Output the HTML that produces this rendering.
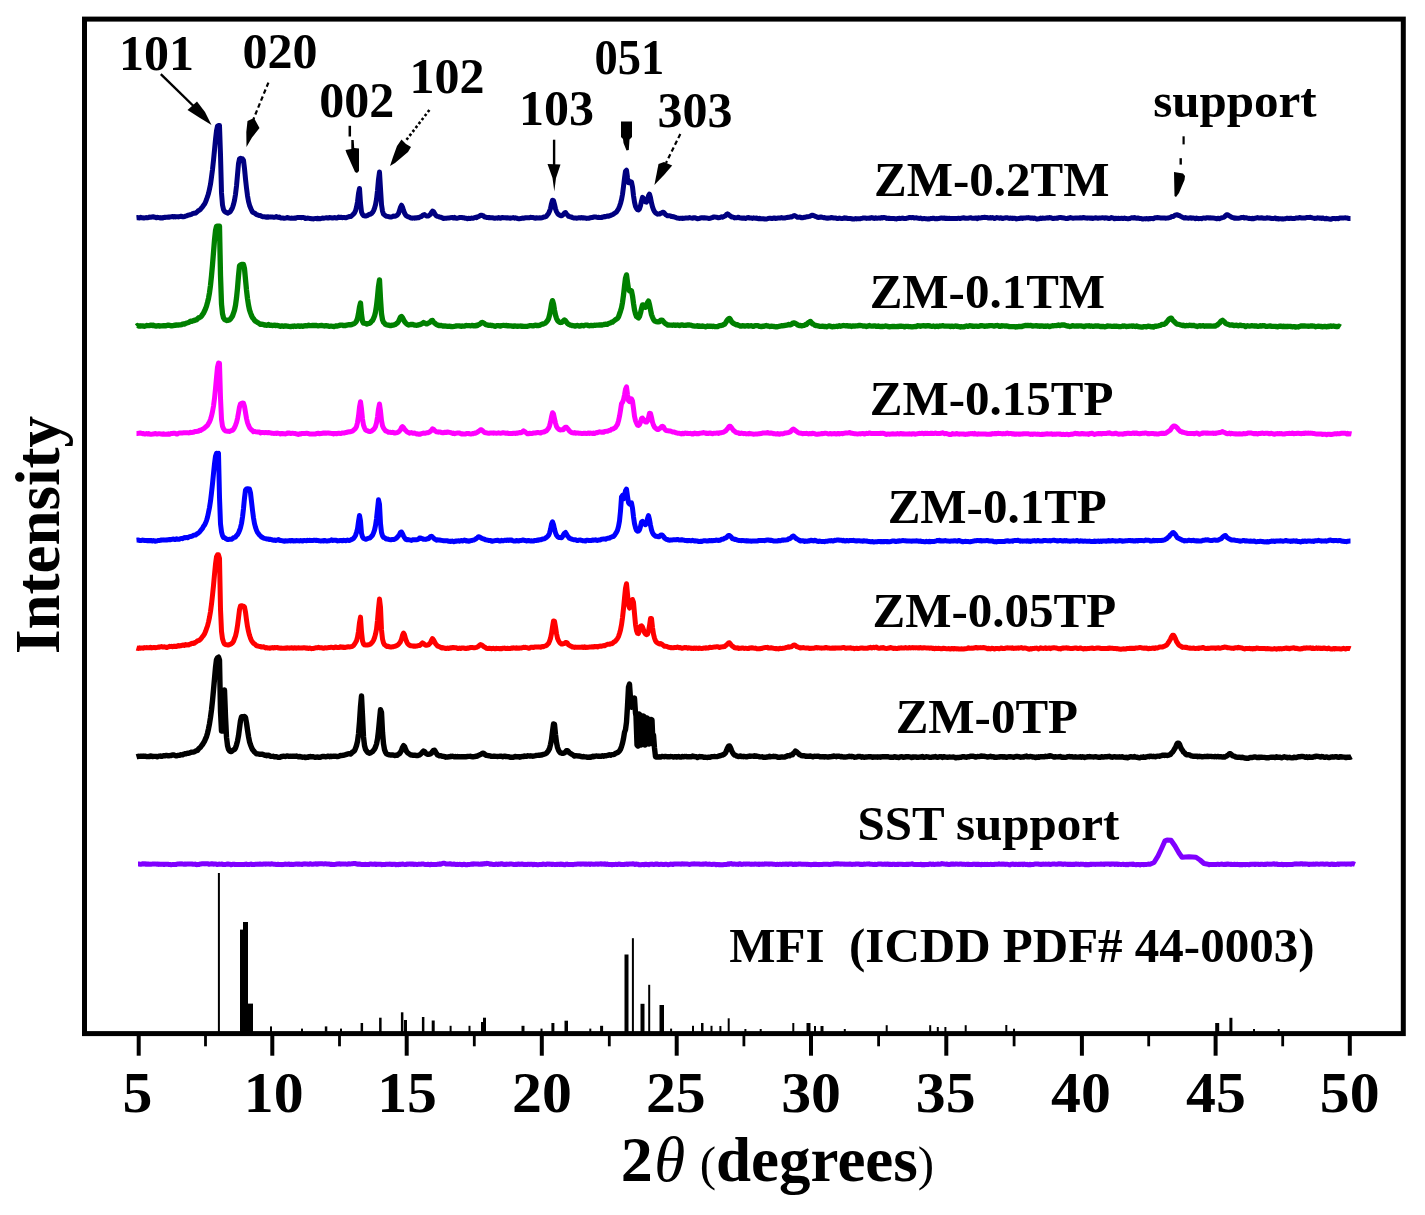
<!DOCTYPE html>
<html><head><meta charset="utf-8"><style>
html,body{margin:0;padding:0;background:#fff;}
body{width:1425px;height:1215px;overflow:hidden;position:relative;}
svg{position:absolute;left:0;top:0;filter:blur(0.35px);}
text{font-family:"Liberation Serif",serif;font-weight:bold;fill:#000;}
</style></head><body>
<svg width="1425" height="1215" viewBox="0 0 1425 1215">
<rect x="0" y="0" width="1425" height="1215" fill="#fff"/>

<path d="M136.5,217.7 137.5,217.6 138.5,217.7 139.5,218.0 140.5,217.3 141.5,217.8 142.5,217.7 143.5,218.0 144.5,217.9 145.5,217.7 146.5,217.6 147.5,217.8 148.5,217.6 149.5,217.1 150.5,217.3 151.5,217.0 152.5,217.0 153.5,216.7 154.5,217.2 155.5,217.2 156.5,217.8 157.5,217.3 158.5,217.6 159.5,217.7 160.5,218.0 161.5,217.7 162.5,218.0 163.5,217.7 164.5,217.2 165.5,217.4 166.5,217.2 167.5,217.3 168.5,217.0 169.5,217.2 170.5,216.9 171.5,216.7 172.5,216.6 173.5,216.9 174.5,216.5 175.5,216.9 176.5,216.7 177.5,216.7 178.5,216.9 179.5,216.6 180.5,216.3 181.5,216.2 182.5,216.7 183.5,216.7 184.5,216.5 185.5,216.2 186.5,215.9 187.5,215.3 188.5,215.2 189.5,214.8 190.5,214.7 191.5,214.4 192.5,213.6 193.5,213.3 194.5,213.3 195.5,213.1 196.5,212.4 197.5,211.6 198.5,210.6 199.5,210.2 200.5,209.3 201.5,208.0 202.5,206.9 203.5,205.3 204.5,204.1 205.5,202.1 206.5,199.5 207.5,196.7 208.5,193.5 209.5,189.1 210.5,184.3 211.5,177.2 212.5,169.6 213.5,160.2 214.5,149.9 215.5,139.4 216.5,130.7 217.5,126.0 218.5,125.6 219.5,125.5 220.5,154.8 221.5,192.9 222.5,205.0 223.5,209.5 224.5,211.4 225.5,212.0 226.5,212.6 227.5,213.2 228.5,212.4 229.5,212.4 230.5,211.3 231.5,209.6 232.5,207.6 233.5,204.5 234.5,200.4 235.5,194.3 236.5,186.0 237.5,174.8 238.5,163.4 239.5,158.7 240.5,158.3 241.5,158.8 242.5,158.8 243.5,160.4 244.5,168.5 245.5,179.0 246.5,188.1 247.5,195.7 248.5,201.4 249.5,205.2 250.5,207.7 251.5,210.1 252.5,212.0 253.5,212.6 254.5,213.0 255.5,213.8 256.5,214.6 257.5,214.9 258.5,215.3 259.5,215.6 260.5,215.6 261.5,216.3 262.5,216.7 263.5,216.8 264.5,216.8 265.5,217.0 266.5,217.2 267.5,216.7 268.5,217.2 269.5,216.9 270.5,217.1 271.5,217.0 272.5,217.1 273.5,217.2 274.5,217.2 275.5,217.1 276.5,216.6 277.5,217.2 278.5,217.4 279.5,217.1 280.5,217.9 281.5,217.9 282.5,217.9 283.5,218.2 284.5,218.3 285.5,218.1 286.5,217.8 287.5,217.5 288.5,218.0 289.5,218.1 290.5,218.3 291.5,218.1 292.5,218.2 293.5,218.2 294.5,218.1 295.5,218.2 296.5,217.7 297.5,217.6 298.5,217.6 299.5,217.6 300.5,217.6 301.5,217.7 302.5,217.4 303.5,217.5 304.5,217.9 305.5,218.5 306.5,218.3 307.5,218.1 308.5,218.2 309.5,218.4 310.5,218.5 311.5,218.7 312.5,218.8 313.5,218.9 314.5,218.6 315.5,218.4 316.5,218.7 317.5,218.2 318.5,218.8 319.5,218.6 320.5,218.7 321.5,218.4 322.5,218.0 323.5,218.3 324.5,218.1 325.5,217.9 326.5,217.7 327.5,218.0 328.5,218.0 329.5,217.5 330.5,217.8 331.5,217.8 332.5,218.1 333.5,217.8 334.5,217.6 335.5,217.7 336.5,218.1 337.5,217.8 338.5,217.1 339.5,217.6 340.5,217.3 341.5,217.3 342.5,217.7 343.5,217.4 344.5,217.5 345.5,217.7 346.5,217.7 347.5,217.1 348.5,216.8 349.5,216.5 350.5,216.6 351.5,215.9 352.5,215.1 353.5,214.1 354.5,212.9 355.5,210.8 356.5,207.2 357.5,201.9 358.5,193.5 359.5,188.5 360.5,203.1 361.5,212.0 362.5,214.4 363.5,215.5 364.5,215.8 365.5,216.1 366.5,215.8 367.5,215.6 368.5,214.8 369.5,214.3 370.5,214.2 371.5,213.5 372.5,212.4 373.5,210.7 374.5,208.2 375.5,204.8 376.5,199.2 377.5,190.5 378.5,179.3 379.5,172.1 380.5,188.6 381.5,204.6 382.5,211.2 383.5,214.1 384.5,215.0 385.5,215.7 386.5,216.2 387.5,216.4 388.5,216.7 389.5,216.7 390.5,217.1 391.5,217.0 392.5,216.6 393.5,216.1 394.5,216.3 395.5,216.0 396.5,215.7 397.5,214.8 398.5,213.5 399.5,210.4 400.5,207.4 401.5,205.2 402.5,207.1 403.5,210.4 404.5,213.0 405.5,214.9 406.5,215.9 407.5,216.5 408.5,216.9 409.5,217.3 410.5,217.8 411.5,218.1 412.5,218.2 413.5,217.9 414.5,218.2 415.5,217.8 416.5,218.1 417.5,217.6 418.5,217.8 419.5,217.2 420.5,216.7 421.5,216.5 422.5,215.5 423.5,214.9 424.5,214.6 425.5,215.5 426.5,215.9 427.5,215.9 428.5,215.9 429.5,215.1 430.5,214.3 431.5,212.5 432.5,211.1 433.5,211.5 434.5,213.2 435.5,214.9 436.5,216.0 437.5,216.4 438.5,216.6 439.5,217.1 440.5,217.2 441.5,217.5 442.5,218.0 443.5,218.5 444.5,218.3 445.5,218.2 446.5,218.2 447.5,218.1 448.5,217.9 449.5,217.9 450.5,217.7 451.5,217.6 452.5,217.4 453.5,218.0 454.5,217.4 455.5,218.0 456.5,218.2 457.5,218.2 458.5,217.9 459.5,217.5 460.5,217.6 461.5,217.4 462.5,217.8 463.5,217.7 464.5,218.0 465.5,218.3 466.5,218.2 467.5,218.7 468.5,218.3 469.5,218.5 470.5,218.4 471.5,218.1 472.5,218.2 473.5,218.2 474.5,217.6 475.5,217.3 476.5,217.7 477.5,216.7 478.5,216.7 479.5,216.1 480.5,215.3 481.5,215.3 482.5,215.5 483.5,215.9 484.5,216.9 485.5,217.0 486.5,217.4 487.5,217.4 488.5,217.7 489.5,217.6 490.5,217.7 491.5,217.8 492.5,217.8 493.5,218.0 494.5,218.2 495.5,218.2 496.5,217.9 497.5,218.2 498.5,217.5 499.5,218.0 500.5,218.2 501.5,217.7 502.5,217.5 503.5,217.8 504.5,217.7 505.5,217.8 506.5,218.0 507.5,217.8 508.5,218.0 509.5,218.0 510.5,218.3 511.5,217.9 512.5,217.8 513.5,217.6 514.5,218.2 515.5,217.8 516.5,218.1 517.5,218.6 518.5,218.7 519.5,218.7 520.5,218.6 521.5,218.3 522.5,218.1 523.5,218.2 524.5,218.0 525.5,217.8 526.5,217.7 527.5,217.8 528.5,217.7 529.5,217.7 530.5,217.3 531.5,217.4 532.5,217.4 533.5,217.8 534.5,218.0 535.5,218.2 536.5,217.7 537.5,217.9 538.5,217.9 539.5,217.8 540.5,218.1 541.5,217.7 542.5,217.8 543.5,217.1 544.5,217.0 545.5,216.7 546.5,216.2 547.5,214.7 548.5,213.6 549.5,211.3 550.5,208.5 551.5,203.6 552.5,200.2 553.5,200.6 554.5,204.3 555.5,208.9 556.5,211.6 557.5,213.4 558.5,214.4 559.5,215.1 560.5,215.7 561.5,215.7 562.5,215.2 563.5,214.2 564.5,213.0 565.5,212.5 566.5,213.9 567.5,214.9 568.5,216.3 569.5,216.5 570.5,216.9 571.5,217.0 572.5,217.6 573.5,217.9 574.5,218.0 575.5,217.9 576.5,218.3 577.5,218.1 578.5,217.7 579.5,217.8 580.5,218.0 581.5,217.6 582.5,218.0 583.5,217.8 584.5,218.0 585.5,218.1 586.5,218.4 587.5,218.2 588.5,218.3 589.5,218.0 590.5,217.7 591.5,217.5 592.5,217.5 593.5,217.0 594.5,217.1 595.5,216.9 596.5,217.2 597.5,217.4 598.5,217.3 599.5,217.4 600.5,217.4 601.5,217.6 602.5,216.9 603.5,217.1 604.5,216.5 605.5,216.7 606.5,216.3 607.5,216.0 608.5,216.3 609.5,215.8 610.5,215.5 611.5,215.0 612.5,214.7 613.5,214.1 614.5,213.3 615.5,212.7 616.5,212.0 617.5,210.4 618.5,208.9 619.5,206.4 620.5,203.5 621.5,199.7 622.5,194.4 623.5,186.6 624.5,178.3 625.5,171.2 626.5,170.2 627.5,177.7 628.5,182.7 629.5,182.7 630.5,181.8 631.5,182.0 632.5,186.9 633.5,195.6 634.5,202.2 635.5,206.4 636.5,208.4 637.5,209.6 638.5,210.0 639.5,208.8 640.5,205.8 641.5,201.1 642.5,197.4 643.5,198.3 644.5,200.2 645.5,201.8 646.5,202.1 647.5,199.8 648.5,195.8 649.5,194.1 650.5,197.7 651.5,202.9 652.5,206.9 653.5,209.6 654.5,211.6 655.5,212.7 656.5,213.5 657.5,214.2 658.5,213.9 659.5,214.1 660.5,213.3 661.5,213.2 662.5,212.3 663.5,212.3 664.5,213.3 665.5,214.6 666.5,215.2 667.5,215.8 668.5,215.8 669.5,215.8 670.5,215.9 671.5,216.5 672.5,216.5 673.5,216.8 674.5,217.0 675.5,217.4 676.5,217.8 677.5,218.1 678.5,218.2 679.5,218.4 680.5,218.3 681.5,218.2 682.5,218.5 683.5,218.2 684.5,218.2 685.5,218.1 686.5,218.0 687.5,218.0 688.5,217.9 689.5,217.6 690.5,217.9 691.5,218.1 692.5,218.2 693.5,217.7 694.5,217.7 695.5,218.0 696.5,218.3 697.5,218.8 698.5,218.6 699.5,218.3 700.5,218.0 701.5,217.8 702.5,217.8 703.5,218.0 704.5,217.8 705.5,218.0 706.5,217.9 707.5,218.1 708.5,218.4 709.5,218.4 710.5,218.2 711.5,217.8 712.5,217.6 713.5,217.0 714.5,216.9 715.5,217.1 716.5,217.3 717.5,217.5 718.5,217.8 719.5,217.6 720.5,217.2 721.5,216.8 722.5,217.2 723.5,216.8 724.5,216.1 725.5,215.8 726.5,214.5 727.5,213.9 728.5,214.5 729.5,215.5 730.5,216.0 731.5,217.1 732.5,217.1 733.5,217.2 734.5,217.9 735.5,217.7 736.5,217.7 737.5,217.5 738.5,217.2 739.5,217.8 740.5,218.0 741.5,218.0 742.5,218.3 743.5,218.0 744.5,218.1 745.5,218.5 746.5,218.0 747.5,217.6 748.5,217.4 749.5,218.0 750.5,218.0 751.5,218.1 752.5,218.4 753.5,217.8 754.5,218.1 755.5,218.3 756.5,218.0 757.5,218.6 758.5,218.7 759.5,218.3 760.5,218.8 761.5,218.7 762.5,218.8 763.5,218.8 764.5,219.0 765.5,219.0 766.5,218.9 767.5,218.8 768.5,218.4 769.5,218.2 770.5,218.3 771.5,218.5 772.5,218.4 773.5,218.0 774.5,218.1 775.5,218.5 776.5,218.2 777.5,218.2 778.5,217.9 779.5,218.0 780.5,218.0 781.5,217.6 782.5,218.0 783.5,218.1 784.5,218.1 785.5,217.8 786.5,217.6 787.5,217.5 788.5,217.2 789.5,217.2 790.5,216.8 791.5,216.9 792.5,216.4 793.5,215.8 794.5,215.6 795.5,216.0 796.5,216.7 797.5,217.3 798.5,217.3 799.5,217.1 800.5,217.2 801.5,217.8 802.5,217.7 803.5,217.5 804.5,217.3 805.5,217.2 806.5,216.8 807.5,216.8 808.5,216.6 809.5,216.4 810.5,215.9 811.5,215.3 812.5,215.3 813.5,215.5 814.5,215.9 815.5,216.4 816.5,216.8 817.5,217.3 818.5,217.5 819.5,217.3 820.5,217.0 821.5,217.0 822.5,217.4 823.5,217.7 824.5,217.6 825.5,218.0 826.5,218.0 827.5,218.3 828.5,218.0 829.5,218.1 830.5,217.7 831.5,217.5 832.5,217.8 833.5,218.0 834.5,217.9 835.5,218.0 836.5,218.2 837.5,218.6 838.5,218.3 839.5,218.1 840.5,218.4 841.5,218.6 842.5,218.4 843.5,218.3 844.5,217.8 845.5,218.2 846.5,218.0 847.5,218.5 848.5,218.5 849.5,218.6 850.5,218.5 851.5,218.7 852.5,219.0 853.5,219.1 854.5,219.0 855.5,218.6 856.5,218.9 857.5,218.7 858.5,218.8 859.5,218.8 860.5,218.7 861.5,218.4 862.5,218.2 863.5,217.9 864.5,218.1 865.5,218.1 866.5,218.4 867.5,218.2 868.5,218.2 869.5,218.1 870.5,218.2 871.5,217.6 872.5,217.8 873.5,218.3 874.5,218.4 875.5,217.8 876.5,218.3 877.5,218.2 878.5,218.1 879.5,218.0 880.5,218.2 881.5,217.6 882.5,217.9 883.5,217.5 884.5,217.6 885.5,217.8 886.5,218.4 887.5,218.2 888.5,218.5 889.5,218.3 890.5,218.4 891.5,218.4 892.5,218.5 893.5,218.4 894.5,218.7 895.5,218.8 896.5,218.9 897.5,218.5 898.5,218.5 899.5,218.3 900.5,218.4 901.5,218.3 902.5,218.1 903.5,218.3 904.5,218.6 905.5,218.6 906.5,218.3 907.5,218.1 908.5,217.7 909.5,217.5 910.5,217.6 911.5,217.8 912.5,217.4 913.5,217.7 914.5,218.1 915.5,217.9 916.5,217.7 917.5,218.1 918.5,218.3 919.5,218.4 920.5,218.1 921.5,218.5 922.5,218.8 923.5,218.6 924.5,218.6 925.5,218.7 926.5,218.8 927.5,218.9 928.5,218.8 929.5,218.9 930.5,218.6 931.5,218.6 932.5,218.2 933.5,218.3 934.5,218.5 935.5,218.8 936.5,218.6 937.5,218.7 938.5,218.6 939.5,218.2 940.5,218.2 941.5,217.9 942.5,218.2 943.5,218.2 944.5,217.9 945.5,218.5 946.5,218.2 947.5,218.5 948.5,218.5 949.5,218.3 950.5,218.6 951.5,218.5 952.5,218.4 953.5,218.4 954.5,218.4 955.5,218.6 956.5,218.5 957.5,218.4 958.5,218.2 959.5,218.4 960.5,218.5 961.5,218.1 962.5,217.9 963.5,217.8 964.5,218.0 965.5,218.3 966.5,218.2 967.5,218.2 968.5,218.2 969.5,217.9 970.5,217.7 971.5,218.0 972.5,218.2 973.5,218.3 974.5,218.2 975.5,218.0 976.5,217.9 977.5,218.6 978.5,217.8 979.5,217.9 980.5,217.9 981.5,217.8 982.5,217.5 983.5,217.4 984.5,217.3 985.5,217.5 986.5,217.4 987.5,217.8 988.5,218.0 989.5,217.9 990.5,217.5 991.5,218.0 992.5,217.6 993.5,217.9 994.5,218.5 995.5,218.2 996.5,217.6 997.5,217.7 998.5,217.9 999.5,218.3 1000.5,217.8 1001.5,218.0 1002.5,218.6 1003.5,218.2 1004.5,218.1 1005.5,217.7 1006.5,217.7 1007.5,217.8 1008.5,218.2 1009.5,218.4 1010.5,218.1 1011.5,218.2 1012.5,218.5 1013.5,218.2 1014.5,218.2 1015.5,218.4 1016.5,218.9 1017.5,218.7 1018.5,218.6 1019.5,218.5 1020.5,218.0 1021.5,218.0 1022.5,218.4 1023.5,218.0 1024.5,218.0 1025.5,217.9 1026.5,217.8 1027.5,217.8 1028.5,217.6 1029.5,217.9 1030.5,218.3 1031.5,218.0 1032.5,218.1 1033.5,218.5 1034.5,218.1 1035.5,218.5 1036.5,218.9 1037.5,218.9 1038.5,218.8 1039.5,218.8 1040.5,218.1 1041.5,218.5 1042.5,218.0 1043.5,218.3 1044.5,218.2 1045.5,218.2 1046.5,217.9 1047.5,217.7 1048.5,218.1 1049.5,217.6 1050.5,217.7 1051.5,218.0 1052.5,218.4 1053.5,218.5 1054.5,218.3 1055.5,218.3 1056.5,218.1 1057.5,218.2 1058.5,217.7 1059.5,217.6 1060.5,217.4 1061.5,217.8 1062.5,217.8 1063.5,218.0 1064.5,218.1 1065.5,218.4 1066.5,218.4 1067.5,218.5 1068.5,217.9 1069.5,218.1 1070.5,217.6 1071.5,217.9 1072.5,218.2 1073.5,218.2 1074.5,218.1 1075.5,217.9 1076.5,217.9 1077.5,217.9 1078.5,217.9 1079.5,218.0 1080.5,217.7 1081.5,218.1 1082.5,217.8 1083.5,217.5 1084.5,217.8 1085.5,218.0 1086.5,218.0 1087.5,218.2 1088.5,217.9 1089.5,218.0 1090.5,218.3 1091.5,218.0 1092.5,218.5 1093.5,218.2 1094.5,218.1 1095.5,217.7 1096.5,217.9 1097.5,218.3 1098.5,218.2 1099.5,217.9 1100.5,218.1 1101.5,217.9 1102.5,217.7 1103.5,217.9 1104.5,218.2 1105.5,217.8 1106.5,218.1 1107.5,218.0 1108.5,218.5 1109.5,218.5 1110.5,218.1 1111.5,217.6 1112.5,217.9 1113.5,218.2 1114.5,218.8 1115.5,218.2 1116.5,218.5 1117.5,218.5 1118.5,218.3 1119.5,218.4 1120.5,218.4 1121.5,218.2 1122.5,218.5 1123.5,218.5 1124.5,218.1 1125.5,218.5 1126.5,218.6 1127.5,218.7 1128.5,218.7 1129.5,218.6 1130.5,218.2 1131.5,217.8 1132.5,217.7 1133.5,218.1 1134.5,217.5 1135.5,218.0 1136.5,218.2 1137.5,218.1 1138.5,218.1 1139.5,218.5 1140.5,218.4 1141.5,218.7 1142.5,219.0 1143.5,218.9 1144.5,218.7 1145.5,218.9 1146.5,218.6 1147.5,218.7 1148.5,219.0 1149.5,218.6 1150.5,218.7 1151.5,218.4 1152.5,218.5 1153.5,218.7 1154.5,218.0 1155.5,217.7 1156.5,217.7 1157.5,217.5 1158.5,217.7 1159.5,217.8 1160.5,217.9 1161.5,218.0 1162.5,218.1 1163.5,218.0 1164.5,217.9 1165.5,218.3 1166.5,218.1 1167.5,217.9 1168.5,217.9 1169.5,217.6 1170.5,217.3 1171.5,216.7 1172.5,216.4 1173.5,216.4 1174.5,215.6 1175.5,215.1 1176.5,214.7 1177.5,214.7 1178.5,215.5 1179.5,215.6 1180.5,216.3 1181.5,216.7 1182.5,217.3 1183.5,217.7 1184.5,218.1 1185.5,217.6 1186.5,218.0 1187.5,218.1 1188.5,218.3 1189.5,217.9 1190.5,217.7 1191.5,218.2 1192.5,218.0 1193.5,218.1 1194.5,218.3 1195.5,218.8 1196.5,218.1 1197.5,218.4 1198.5,218.7 1199.5,218.6 1200.5,218.4 1201.5,218.7 1202.5,218.2 1203.5,218.1 1204.5,218.1 1205.5,218.3 1206.5,217.8 1207.5,217.7 1208.5,217.7 1209.5,218.1 1210.5,217.8 1211.5,218.1 1212.5,217.9 1213.5,218.1 1214.5,218.2 1215.5,218.4 1216.5,218.8 1217.5,218.5 1218.5,218.2 1219.5,218.7 1220.5,218.3 1221.5,217.9 1222.5,217.6 1223.5,217.4 1224.5,216.8 1225.5,215.7 1226.5,214.7 1227.5,214.8 1228.5,215.3 1229.5,215.9 1230.5,216.4 1231.5,217.2 1232.5,217.5 1233.5,217.7 1234.5,218.2 1235.5,218.0 1236.5,218.3 1237.5,218.3 1238.5,218.3 1239.5,218.1 1240.5,217.8 1241.5,217.5 1242.5,217.6 1243.5,217.2 1244.5,218.0 1245.5,217.8 1246.5,217.7 1247.5,218.1 1248.5,218.4 1249.5,218.3 1250.5,218.6 1251.5,218.7 1252.5,218.2 1253.5,218.7 1254.5,218.2 1255.5,218.3 1256.5,217.9 1257.5,217.6 1258.5,217.9 1259.5,218.0 1260.5,218.1 1261.5,217.8 1262.5,218.0 1263.5,218.2 1264.5,218.3 1265.5,218.2 1266.5,218.0 1267.5,217.7 1268.5,218.1 1269.5,218.0 1270.5,218.3 1271.5,218.5 1272.5,218.4 1273.5,218.4 1274.5,218.3 1275.5,217.9 1276.5,218.7 1277.5,218.5 1278.5,219.0 1279.5,218.7 1280.5,218.7 1281.5,218.9 1282.5,218.8 1283.5,218.9 1284.5,218.8 1285.5,218.7 1286.5,218.3 1287.5,218.3 1288.5,218.5 1289.5,218.5 1290.5,218.2 1291.5,218.3 1292.5,218.6 1293.5,218.4 1294.5,218.4 1295.5,218.3 1296.5,217.9 1297.5,217.9 1298.5,217.9 1299.5,217.5 1300.5,217.8 1301.5,218.0 1302.5,217.9 1303.5,217.9 1304.5,217.9 1305.5,217.9 1306.5,217.5 1307.5,217.4 1308.5,217.6 1309.5,217.5 1310.5,217.3 1311.5,217.6 1312.5,217.9 1313.5,218.1 1314.5,218.4 1315.5,218.3 1316.5,218.2 1317.5,217.8 1318.5,217.9 1319.5,218.2 1320.5,218.1 1321.5,218.4 1322.5,217.9 1323.5,218.3 1324.5,218.7 1325.5,218.8 1326.5,218.3 1327.5,218.7 1328.5,218.7 1329.5,219.1 1330.5,219.3 1331.5,219.0 1332.5,218.5 1333.5,218.5 1334.5,218.6 1335.5,218.7 1336.5,218.5 1337.5,218.5 1338.5,218.7 1339.5,218.0 1340.5,218.1 1341.5,218.0 1342.5,218.1 1343.5,218.1 1344.5,217.9 1345.5,217.7 1346.5,218.1 1347.5,218.0 1348.5,218.5 1349.5,218.5 1350.5,218.5" fill="none" stroke="#000080" stroke-width="5.0" stroke-linejoin="round" stroke-linecap="butt"/>
<path d="M136.5,326.3 137.5,325.5 138.5,326.0 139.5,325.9 140.5,326.1 141.5,325.8 142.5,325.8 143.5,326.2 144.5,326.3 145.5,326.0 146.5,325.5 147.5,325.6 148.5,325.7 149.5,325.6 150.5,325.1 151.5,325.1 152.5,325.5 153.5,325.2 154.5,325.8 155.5,326.0 156.5,326.0 157.5,325.9 158.5,325.7 159.5,326.1 160.5,325.8 161.5,325.9 162.5,325.8 163.5,325.6 164.5,325.6 165.5,325.8 166.5,325.6 167.5,325.2 168.5,325.2 169.5,325.4 170.5,325.6 171.5,325.9 172.5,325.6 173.5,325.6 174.5,325.1 175.5,325.3 176.5,324.8 177.5,325.2 178.5,325.0 179.5,324.9 180.5,324.9 181.5,324.7 182.5,324.1 183.5,324.0 184.5,324.0 185.5,323.6 186.5,323.0 187.5,322.8 188.5,322.5 189.5,321.9 190.5,321.2 191.5,321.3 192.5,321.1 193.5,320.5 194.5,320.6 195.5,319.9 196.5,319.8 197.5,318.8 198.5,317.9 199.5,317.6 200.5,317.0 201.5,316.1 202.5,314.5 203.5,313.1 204.5,311.0 205.5,308.8 206.5,306.1 207.5,302.4 208.5,298.3 209.5,292.7 210.5,285.3 211.5,275.8 212.5,264.8 213.5,252.4 214.5,240.1 215.5,230.7 216.5,226.4 217.5,226.2 218.5,226.4 219.5,226.2 220.5,275.3 221.5,304.0 222.5,313.7 223.5,317.8 224.5,319.3 225.5,320.0 226.5,320.5 227.5,320.4 228.5,320.1 229.5,319.9 230.5,318.9 231.5,317.5 232.5,316.0 233.5,313.2 234.5,310.1 235.5,305.4 236.5,297.9 237.5,288.2 238.5,275.9 239.5,265.9 240.5,264.9 241.5,264.5 242.5,264.5 243.5,264.5 244.5,268.7 245.5,279.5 246.5,290.1 247.5,298.6 248.5,305.1 249.5,309.9 250.5,312.9 251.5,315.5 252.5,317.6 253.5,318.7 254.5,320.3 255.5,321.2 256.5,321.8 257.5,322.4 258.5,323.0 259.5,323.8 260.5,324.4 261.5,324.1 262.5,324.3 263.5,324.6 264.5,325.0 265.5,325.0 266.5,325.4 267.5,324.9 268.5,324.5 269.5,325.4 270.5,325.1 271.5,325.1 272.5,325.5 273.5,325.4 274.5,325.2 275.5,325.6 276.5,325.3 277.5,325.4 278.5,325.8 279.5,325.9 280.5,326.4 281.5,326.0 282.5,325.9 283.5,326.3 284.5,325.8 285.5,325.8 286.5,326.2 287.5,326.1 288.5,326.3 289.5,326.5 290.5,326.7 291.5,326.3 292.5,326.2 293.5,326.5 294.5,326.0 295.5,326.3 296.5,326.3 297.5,326.0 298.5,326.0 299.5,326.4 300.5,326.1 301.5,325.9 302.5,326.3 303.5,326.1 304.5,325.8 305.5,325.6 306.5,325.8 307.5,325.8 308.5,325.1 309.5,325.6 310.5,325.7 311.5,325.7 312.5,325.4 313.5,325.4 314.5,325.5 315.5,325.4 316.5,325.5 317.5,325.8 318.5,325.8 319.5,325.7 320.5,325.6 321.5,325.4 322.5,325.7 323.5,325.8 324.5,326.0 325.5,325.7 326.5,325.7 327.5,325.8 328.5,326.1 329.5,326.3 330.5,326.2 331.5,326.2 332.5,326.3 333.5,326.5 334.5,326.5 335.5,326.0 336.5,325.9 337.5,326.0 338.5,325.7 339.5,325.4 340.5,325.1 341.5,325.1 342.5,325.1 343.5,325.7 344.5,325.5 345.5,325.5 346.5,325.1 347.5,325.0 348.5,324.7 349.5,324.7 350.5,324.9 351.5,324.7 352.5,324.2 353.5,323.9 354.5,323.5 355.5,322.5 356.5,321.1 357.5,318.6 358.5,313.6 359.5,307.2 360.5,303.0 361.5,314.5 362.5,321.3 363.5,323.1 364.5,323.1 365.5,323.5 366.5,324.1 367.5,323.9 368.5,323.5 369.5,323.3 370.5,322.7 371.5,321.4 372.5,320.5 373.5,318.6 374.5,316.1 375.5,312.1 376.5,306.0 377.5,297.1 378.5,286.3 379.5,279.9 380.5,298.9 381.5,313.7 382.5,319.8 383.5,322.2 384.5,323.3 385.5,324.4 386.5,324.8 387.5,325.0 388.5,325.1 389.5,325.4 390.5,325.7 391.5,325.4 392.5,325.1 393.5,325.1 394.5,324.7 395.5,324.5 396.5,323.5 397.5,322.8 398.5,321.5 399.5,319.3 400.5,317.1 401.5,316.4 402.5,317.6 403.5,319.6 404.5,321.5 405.5,322.7 406.5,323.8 407.5,324.4 408.5,325.0 409.5,324.8 410.5,324.5 411.5,324.5 412.5,324.4 413.5,324.7 414.5,325.2 415.5,325.2 416.5,325.3 417.5,325.2 418.5,324.9 419.5,324.7 420.5,324.4 421.5,323.9 422.5,323.3 423.5,322.5 424.5,323.1 425.5,323.3 426.5,323.9 427.5,323.6 428.5,323.0 429.5,322.6 430.5,321.7 431.5,320.6 432.5,320.5 433.5,322.0 434.5,323.0 435.5,323.7 436.5,324.6 437.5,325.0 438.5,325.6 439.5,325.4 440.5,325.6 441.5,325.5 442.5,326.0 443.5,325.9 444.5,326.1 445.5,326.0 446.5,326.2 447.5,326.4 448.5,326.4 449.5,326.2 450.5,326.3 451.5,326.7 452.5,326.7 453.5,326.5 454.5,326.3 455.5,326.2 456.5,325.9 457.5,325.9 458.5,325.8 459.5,325.9 460.5,326.2 461.5,326.4 462.5,326.0 463.5,326.2 464.5,326.1 465.5,325.6 466.5,325.5 467.5,325.7 468.5,325.7 469.5,325.7 470.5,325.8 471.5,325.7 472.5,325.3 473.5,325.8 474.5,325.6 475.5,325.9 476.5,325.1 477.5,325.5 478.5,324.7 479.5,324.3 480.5,323.6 481.5,322.6 482.5,322.5 483.5,322.9 484.5,323.5 485.5,324.5 486.5,324.9 487.5,324.9 488.5,325.4 489.5,325.4 490.5,325.2 491.5,325.6 492.5,325.5 493.5,325.8 494.5,326.1 495.5,326.3 496.5,325.7 497.5,325.7 498.5,325.6 499.5,325.8 500.5,326.1 501.5,325.7 502.5,325.5 503.5,325.3 504.5,325.5 505.5,325.7 506.5,325.4 507.5,325.9 508.5,325.7 509.5,325.8 510.5,325.8 511.5,326.0 512.5,326.1 513.5,326.3 514.5,325.8 515.5,326.2 516.5,326.1 517.5,326.3 518.5,326.1 519.5,326.2 520.5,326.0 521.5,326.4 522.5,326.2 523.5,326.3 524.5,326.3 525.5,326.3 526.5,326.4 527.5,326.3 528.5,326.0 529.5,325.7 530.5,325.6 531.5,325.6 532.5,325.8 533.5,325.8 534.5,325.3 535.5,325.2 536.5,325.6 537.5,325.4 538.5,325.5 539.5,325.4 540.5,324.9 541.5,324.4 542.5,324.0 543.5,324.0 544.5,323.5 545.5,322.9 546.5,321.9 547.5,320.6 548.5,318.9 549.5,315.3 550.5,310.4 551.5,304.1 552.5,300.6 553.5,303.9 554.5,310.2 555.5,315.1 556.5,318.3 557.5,320.4 558.5,321.5 559.5,322.3 560.5,322.5 561.5,322.3 562.5,321.8 563.5,320.7 564.5,319.9 565.5,320.8 566.5,322.2 567.5,323.5 568.5,324.2 569.5,324.6 570.5,325.2 571.5,325.3 572.5,325.7 573.5,325.7 574.5,326.0 575.5,326.0 576.5,325.6 577.5,325.5 578.5,325.9 579.5,326.1 580.5,325.9 581.5,325.3 582.5,325.5 583.5,325.8 584.5,325.3 585.5,325.2 586.5,325.1 587.5,325.2 588.5,325.7 589.5,325.8 590.5,325.5 591.5,325.5 592.5,325.6 593.5,325.5 594.5,325.2 595.5,325.3 596.5,325.2 597.5,325.1 598.5,325.2 599.5,324.9 600.5,324.9 601.5,325.2 602.5,324.8 603.5,324.7 604.5,324.3 605.5,324.2 606.5,324.4 607.5,324.3 608.5,323.5 609.5,323.2 610.5,323.0 611.5,322.2 612.5,322.1 613.5,321.3 614.5,320.5 615.5,319.6 616.5,319.1 617.5,318.4 618.5,316.8 619.5,314.0 620.5,311.1 621.5,307.7 622.5,302.4 623.5,295.2 624.5,286.2 625.5,278.2 626.5,274.9 627.5,282.3 628.5,289.1 629.5,290.8 630.5,290.4 631.5,290.9 632.5,295.9 633.5,303.4 634.5,309.8 635.5,313.8 636.5,316.5 637.5,317.3 638.5,317.9 639.5,316.5 640.5,313.1 641.5,308.6 642.5,304.8 643.5,304.9 644.5,306.6 645.5,307.3 646.5,306.2 647.5,302.7 648.5,301.0 649.5,304.7 650.5,309.8 651.5,314.6 652.5,317.2 653.5,319.6 654.5,320.8 655.5,321.3 656.5,321.7 657.5,321.9 658.5,321.9 659.5,321.7 660.5,320.4 661.5,320.2 662.5,320.4 663.5,321.6 664.5,322.8 665.5,323.6 666.5,324.1 667.5,325.0 668.5,324.9 669.5,325.2 670.5,325.1 671.5,325.2 672.5,325.3 673.5,325.0 674.5,325.1 675.5,325.4 676.5,325.2 677.5,325.0 678.5,325.2 679.5,325.6 680.5,325.1 681.5,325.0 682.5,324.9 683.5,325.3 684.5,325.4 685.5,325.4 686.5,325.1 687.5,325.0 688.5,324.9 689.5,325.0 690.5,325.2 691.5,325.4 692.5,325.8 693.5,325.9 694.5,326.1 695.5,326.2 696.5,326.1 697.5,325.6 698.5,326.4 699.5,325.9 700.5,326.3 701.5,326.3 702.5,325.8 703.5,326.3 704.5,326.4 705.5,326.8 706.5,326.7 707.5,326.0 708.5,326.2 709.5,326.4 710.5,326.2 711.5,326.2 712.5,326.5 713.5,326.2 714.5,326.6 715.5,326.7 716.5,326.7 717.5,326.6 718.5,326.1 719.5,325.6 720.5,325.6 721.5,325.4 722.5,325.2 723.5,324.6 724.5,324.3 725.5,323.0 726.5,321.3 727.5,319.9 728.5,318.9 729.5,318.4 730.5,319.7 731.5,321.6 732.5,322.6 733.5,323.4 734.5,323.9 735.5,324.4 736.5,324.9 737.5,324.7 738.5,325.4 739.5,325.6 740.5,326.2 741.5,326.1 742.5,325.6 743.5,325.8 744.5,326.1 745.5,326.0 746.5,325.8 747.5,325.6 748.5,326.1 749.5,325.8 750.5,325.9 751.5,325.7 752.5,326.3 753.5,326.3 754.5,325.8 755.5,325.6 756.5,325.7 757.5,325.6 758.5,325.8 759.5,326.4 760.5,326.3 761.5,326.7 762.5,326.1 763.5,326.3 764.5,326.1 765.5,325.7 766.5,325.5 767.5,326.0 768.5,326.0 769.5,326.5 770.5,326.4 771.5,326.2 772.5,326.4 773.5,326.3 774.5,326.7 775.5,326.8 776.5,326.6 777.5,326.8 778.5,326.5 779.5,326.1 780.5,326.1 781.5,325.7 782.5,325.8 783.5,325.6 784.5,325.5 785.5,325.4 786.5,325.2 787.5,325.2 788.5,324.5 789.5,324.6 790.5,324.8 791.5,324.4 792.5,323.3 793.5,322.9 794.5,322.8 795.5,323.5 796.5,323.9 797.5,325.0 798.5,325.1 799.5,325.6 800.5,325.5 801.5,325.9 802.5,325.7 803.5,325.5 804.5,325.3 805.5,324.5 806.5,324.5 807.5,323.4 808.5,322.5 809.5,321.9 810.5,321.4 811.5,322.6 812.5,324.0 813.5,324.2 814.5,325.0 815.5,325.7 816.5,325.5 817.5,325.8 818.5,325.9 819.5,326.3 820.5,326.3 821.5,326.3 822.5,326.1 823.5,326.3 824.5,326.6 825.5,326.5 826.5,326.8 827.5,326.3 828.5,326.2 829.5,325.8 830.5,326.3 831.5,326.6 832.5,326.8 833.5,326.4 834.5,326.7 835.5,326.5 836.5,326.2 837.5,326.5 838.5,326.2 839.5,325.7 840.5,326.3 841.5,326.0 842.5,325.7 843.5,325.5 844.5,325.7 845.5,325.8 846.5,325.6 847.5,325.6 848.5,326.2 849.5,325.8 850.5,325.9 851.5,326.5 852.5,325.9 853.5,326.0 854.5,326.2 855.5,325.8 856.5,325.9 857.5,325.9 858.5,325.7 859.5,325.3 860.5,325.6 861.5,325.7 862.5,325.8 863.5,326.2 864.5,326.0 865.5,326.1 866.5,326.5 867.5,326.2 868.5,325.9 869.5,325.5 870.5,326.0 871.5,326.2 872.5,326.1 873.5,326.0 874.5,325.8 875.5,326.1 876.5,326.4 877.5,326.4 878.5,325.9 879.5,326.5 880.5,326.7 881.5,326.3 882.5,326.6 883.5,326.4 884.5,326.4 885.5,326.0 886.5,326.1 887.5,326.3 888.5,326.7 889.5,326.9 890.5,326.7 891.5,326.6 892.5,326.4 893.5,326.5 894.5,326.5 895.5,326.6 896.5,326.6 897.5,326.4 898.5,326.6 899.5,326.2 900.5,326.4 901.5,326.2 902.5,326.3 903.5,326.4 904.5,326.9 905.5,326.3 906.5,326.4 907.5,326.4 908.5,326.5 909.5,326.7 910.5,326.6 911.5,326.8 912.5,326.8 913.5,326.6 914.5,326.6 915.5,326.4 916.5,326.5 917.5,325.7 918.5,325.9 919.5,326.0 920.5,326.3 921.5,325.9 922.5,325.8 923.5,325.6 924.5,325.8 925.5,326.1 926.5,325.9 927.5,325.7 928.5,325.6 929.5,325.8 930.5,326.2 931.5,326.3 932.5,326.3 933.5,326.0 934.5,326.5 935.5,326.5 936.5,326.2 937.5,326.1 938.5,326.5 939.5,325.9 940.5,326.2 941.5,326.0 942.5,325.6 943.5,325.9 944.5,326.1 945.5,326.1 946.5,326.1 947.5,326.1 948.5,326.2 949.5,326.2 950.5,326.6 951.5,326.2 952.5,326.1 953.5,326.5 954.5,326.3 955.5,326.0 956.5,326.3 957.5,326.1 958.5,326.6 959.5,326.6 960.5,327.0 961.5,326.7 962.5,326.8 963.5,326.9 964.5,326.6 965.5,326.3 966.5,326.0 967.5,326.3 968.5,326.3 969.5,325.7 970.5,325.9 971.5,326.0 972.5,326.4 973.5,326.1 974.5,326.3 975.5,326.2 976.5,326.2 977.5,326.4 978.5,326.4 979.5,326.2 980.5,325.7 981.5,325.6 982.5,325.9 983.5,325.9 984.5,326.3 985.5,326.1 986.5,326.0 987.5,326.0 988.5,325.9 989.5,325.6 990.5,325.7 991.5,325.7 992.5,325.7 993.5,326.0 994.5,326.1 995.5,325.7 996.5,325.6 997.5,325.5 998.5,325.8 999.5,326.4 1000.5,326.3 1001.5,325.6 1002.5,326.0 1003.5,325.8 1004.5,326.0 1005.5,326.1 1006.5,325.9 1007.5,326.2 1008.5,326.4 1009.5,326.7 1010.5,326.6 1011.5,326.6 1012.5,326.7 1013.5,326.6 1014.5,326.7 1015.5,327.0 1016.5,326.6 1017.5,326.8 1018.5,326.4 1019.5,326.5 1020.5,326.5 1021.5,326.7 1022.5,326.1 1023.5,326.0 1024.5,325.6 1025.5,325.5 1026.5,325.6 1027.5,325.4 1028.5,325.5 1029.5,325.7 1030.5,325.4 1031.5,325.7 1032.5,326.2 1033.5,325.9 1034.5,325.8 1035.5,325.9 1036.5,325.6 1037.5,326.0 1038.5,326.0 1039.5,326.3 1040.5,325.8 1041.5,326.0 1042.5,326.0 1043.5,326.3 1044.5,326.1 1045.5,326.4 1046.5,326.1 1047.5,326.0 1048.5,326.1 1049.5,326.6 1050.5,326.1 1051.5,326.1 1052.5,325.7 1053.5,325.8 1054.5,325.7 1055.5,325.6 1056.5,325.6 1057.5,325.3 1058.5,325.0 1059.5,325.7 1060.5,325.4 1061.5,325.0 1062.5,325.0 1063.5,324.9 1064.5,324.9 1065.5,325.6 1066.5,325.7 1067.5,326.1 1068.5,326.0 1069.5,326.5 1070.5,326.4 1071.5,326.2 1072.5,325.7 1073.5,325.9 1074.5,326.1 1075.5,326.1 1076.5,325.9 1077.5,326.0 1078.5,326.0 1079.5,325.9 1080.5,325.9 1081.5,326.0 1082.5,326.2 1083.5,326.5 1084.5,326.5 1085.5,326.1 1086.5,325.8 1087.5,325.8 1088.5,326.0 1089.5,325.7 1090.5,326.3 1091.5,326.0 1092.5,326.3 1093.5,326.4 1094.5,326.2 1095.5,325.9 1096.5,326.1 1097.5,326.0 1098.5,326.0 1099.5,326.4 1100.5,326.5 1101.5,326.5 1102.5,326.4 1103.5,326.5 1104.5,326.8 1105.5,326.6 1106.5,326.4 1107.5,325.8 1108.5,326.0 1109.5,326.2 1110.5,326.2 1111.5,326.3 1112.5,326.4 1113.5,326.4 1114.5,326.1 1115.5,326.3 1116.5,326.2 1117.5,326.3 1118.5,326.5 1119.5,326.6 1120.5,326.7 1121.5,326.5 1122.5,326.0 1123.5,326.3 1124.5,326.0 1125.5,326.4 1126.5,326.5 1127.5,326.4 1128.5,326.4 1129.5,326.2 1130.5,326.2 1131.5,326.0 1132.5,326.4 1133.5,326.0 1134.5,326.3 1135.5,326.5 1136.5,325.9 1137.5,326.4 1138.5,326.7 1139.5,326.9 1140.5,326.9 1141.5,327.1 1142.5,327.1 1143.5,326.6 1144.5,326.7 1145.5,326.6 1146.5,326.8 1147.5,326.4 1148.5,326.2 1149.5,326.3 1150.5,326.6 1151.5,326.8 1152.5,326.6 1153.5,327.1 1154.5,326.4 1155.5,326.2 1156.5,326.3 1157.5,326.0 1158.5,325.8 1159.5,325.5 1160.5,325.3 1161.5,324.6 1162.5,324.3 1163.5,324.4 1164.5,324.1 1165.5,323.5 1166.5,322.3 1167.5,321.1 1168.5,319.7 1169.5,318.8 1170.5,318.1 1171.5,318.2 1172.5,320.0 1173.5,321.0 1174.5,321.9 1175.5,322.9 1176.5,323.8 1177.5,324.2 1178.5,324.3 1179.5,324.5 1180.5,325.0 1181.5,325.2 1182.5,325.5 1183.5,325.2 1184.5,325.9 1185.5,325.9 1186.5,325.5 1187.5,325.6 1188.5,325.6 1189.5,325.2 1190.5,325.3 1191.5,325.6 1192.5,325.5 1193.5,325.3 1194.5,325.7 1195.5,326.0 1196.5,326.1 1197.5,326.5 1198.5,326.0 1199.5,325.6 1200.5,326.1 1201.5,325.9 1202.5,325.9 1203.5,325.6 1204.5,326.3 1205.5,326.0 1206.5,326.1 1207.5,325.8 1208.5,326.1 1209.5,326.0 1210.5,325.9 1211.5,326.1 1212.5,326.2 1213.5,326.1 1214.5,325.9 1215.5,326.1 1216.5,325.2 1217.5,324.9 1218.5,323.8 1219.5,323.1 1220.5,321.7 1221.5,320.8 1222.5,320.3 1223.5,321.2 1224.5,321.9 1225.5,323.4 1226.5,323.8 1227.5,324.1 1228.5,324.5 1229.5,325.0 1230.5,325.1 1231.5,325.0 1232.5,324.9 1233.5,325.6 1234.5,325.5 1235.5,325.4 1236.5,325.2 1237.5,325.7 1238.5,325.8 1239.5,325.4 1240.5,325.1 1241.5,325.7 1242.5,325.7 1243.5,325.6 1244.5,325.9 1245.5,326.6 1246.5,326.1 1247.5,325.7 1248.5,326.0 1249.5,326.2 1250.5,326.0 1251.5,325.6 1252.5,325.9 1253.5,325.8 1254.5,326.1 1255.5,325.9 1256.5,326.0 1257.5,326.4 1258.5,326.3 1259.5,326.2 1260.5,325.7 1261.5,326.1 1262.5,325.6 1263.5,325.8 1264.5,325.7 1265.5,326.4 1266.5,326.4 1267.5,326.3 1268.5,326.2 1269.5,326.1 1270.5,325.8 1271.5,326.3 1272.5,326.4 1273.5,326.3 1274.5,326.3 1275.5,326.3 1276.5,326.7 1277.5,326.8 1278.5,326.3 1279.5,326.2 1280.5,326.4 1281.5,326.1 1282.5,326.6 1283.5,326.1 1284.5,326.7 1285.5,326.4 1286.5,326.3 1287.5,326.6 1288.5,326.4 1289.5,326.3 1290.5,326.4 1291.5,326.7 1292.5,326.8 1293.5,326.7 1294.5,326.6 1295.5,327.1 1296.5,326.9 1297.5,326.8 1298.5,327.0 1299.5,326.5 1300.5,326.1 1301.5,325.8 1302.5,325.9 1303.5,326.2 1304.5,325.9 1305.5,326.1 1306.5,326.2 1307.5,326.2 1308.5,326.4 1309.5,326.2 1310.5,326.0 1311.5,325.9 1312.5,326.0 1313.5,326.1 1314.5,326.2 1315.5,326.8 1316.5,326.5 1317.5,326.3 1318.5,326.1 1319.5,326.3 1320.5,326.5 1321.5,326.3 1322.5,326.8 1323.5,326.7 1324.5,326.4 1325.5,326.4 1326.5,326.8 1327.5,326.3 1328.5,326.6 1329.5,326.4 1330.5,326.0 1331.5,326.4 1332.5,326.2 1333.5,326.0 1334.5,326.4 1335.5,326.4 1336.5,326.6 1337.5,326.6 1338.5,326.2 1339.5,326.4 1340.5,327.0" fill="none" stroke="#008000" stroke-width="5.3" stroke-linejoin="round" stroke-linecap="butt"/>
<path d="M136.5,433.4 137.5,433.4 138.5,433.3 139.5,433.3 140.5,432.9 141.5,433.4 142.5,433.7 143.5,433.6 144.5,434.0 145.5,433.9 146.5,433.6 147.5,434.0 148.5,433.5 149.5,434.0 150.5,434.2 151.5,434.3 152.5,434.1 153.5,434.0 154.5,433.8 155.5,433.5 156.5,433.9 157.5,433.9 158.5,433.8 159.5,433.7 160.5,433.9 161.5,434.0 162.5,434.2 163.5,433.8 164.5,434.3 165.5,434.3 166.5,434.1 167.5,434.3 168.5,433.8 169.5,434.3 170.5,433.8 171.5,433.4 172.5,433.5 173.5,433.3 174.5,433.3 175.5,433.5 176.5,434.0 177.5,433.9 178.5,433.2 179.5,433.1 180.5,433.0 181.5,432.9 182.5,432.9 183.5,432.8 184.5,432.7 185.5,432.7 186.5,432.8 187.5,432.7 188.5,432.9 189.5,432.8 190.5,432.2 191.5,432.6 192.5,432.2 193.5,432.2 194.5,431.7 195.5,431.4 196.5,431.5 197.5,431.3 198.5,431.3 199.5,430.3 200.5,430.6 201.5,429.8 202.5,429.3 203.5,428.7 204.5,428.1 205.5,427.1 206.5,426.2 207.5,425.4 208.5,423.5 209.5,421.9 210.5,419.3 211.5,416.0 212.5,411.6 213.5,406.1 214.5,398.4 215.5,388.6 216.5,377.5 217.5,367.1 218.5,363.0 219.5,363.4 220.5,397.9 221.5,419.3 222.5,426.3 223.5,428.7 224.5,430.2 225.5,430.8 226.5,431.1 227.5,431.3 228.5,431.3 229.5,431.4 230.5,431.0 231.5,430.5 232.5,430.3 233.5,429.2 234.5,427.6 235.5,425.2 236.5,422.5 237.5,418.3 238.5,412.9 239.5,406.9 240.5,403.8 241.5,403.5 242.5,403.0 243.5,403.2 244.5,406.4 245.5,412.5 246.5,418.5 247.5,422.7 248.5,425.3 249.5,427.6 250.5,428.8 251.5,430.1 252.5,430.6 253.5,431.7 254.5,431.4 255.5,431.7 256.5,431.9 257.5,432.1 258.5,432.0 259.5,431.9 260.5,432.9 261.5,432.5 262.5,432.4 263.5,432.6 264.5,432.7 265.5,432.6 266.5,432.6 267.5,432.8 268.5,432.5 269.5,432.7 270.5,432.9 271.5,433.3 272.5,433.2 273.5,433.4 274.5,433.4 275.5,433.2 276.5,433.5 277.5,433.1 278.5,433.3 279.5,433.4 280.5,433.9 281.5,433.6 282.5,433.5 283.5,433.7 284.5,433.8 285.5,433.9 286.5,433.6 287.5,433.0 288.5,433.2 289.5,433.0 290.5,433.4 291.5,433.4 292.5,433.2 293.5,433.4 294.5,433.6 295.5,433.6 296.5,434.0 297.5,433.9 298.5,434.4 299.5,433.7 300.5,434.0 301.5,433.4 302.5,433.5 303.5,433.6 304.5,433.5 305.5,433.4 306.5,433.2 307.5,433.5 308.5,433.6 309.5,434.0 310.5,433.9 311.5,433.9 312.5,433.9 313.5,433.9 314.5,434.0 315.5,434.0 316.5,433.5 317.5,433.5 318.5,433.2 319.5,433.7 320.5,433.5 321.5,433.5 322.5,433.3 323.5,433.0 324.5,433.2 325.5,433.0 326.5,433.2 327.5,433.1 328.5,433.0 329.5,433.2 330.5,433.3 331.5,433.4 332.5,433.5 333.5,433.9 334.5,433.5 335.5,433.5 336.5,433.7 337.5,433.5 338.5,433.3 339.5,433.2 340.5,433.6 341.5,433.3 342.5,432.9 343.5,432.9 344.5,432.9 345.5,432.5 346.5,432.6 347.5,432.1 348.5,432.0 349.5,431.7 350.5,431.8 351.5,431.4 352.5,431.1 353.5,430.3 354.5,429.3 355.5,428.4 356.5,426.5 357.5,422.5 358.5,416.2 359.5,407.0 360.5,401.7 361.5,408.9 362.5,419.1 363.5,425.1 364.5,427.9 365.5,429.8 366.5,430.6 367.5,430.8 368.5,431.3 369.5,431.5 370.5,431.4 371.5,431.1 372.5,430.3 373.5,429.5 374.5,428.4 375.5,426.5 376.5,422.9 377.5,417.1 378.5,408.9 379.5,404.0 380.5,410.9 381.5,420.5 382.5,425.8 383.5,428.1 384.5,429.4 385.5,430.9 386.5,431.0 387.5,431.7 388.5,432.3 389.5,432.2 390.5,432.3 391.5,432.6 392.5,432.3 393.5,432.4 394.5,433.0 395.5,432.9 396.5,432.7 397.5,432.6 398.5,431.8 399.5,431.1 400.5,429.8 401.5,427.6 402.5,426.6 403.5,427.5 404.5,429.2 405.5,430.3 406.5,431.3 407.5,432.2 408.5,432.5 409.5,433.2 410.5,432.8 411.5,432.6 412.5,433.2 413.5,433.2 414.5,433.0 415.5,433.5 416.5,433.9 417.5,433.8 418.5,434.2 419.5,434.1 420.5,434.2 421.5,433.6 422.5,433.3 423.5,433.1 424.5,433.2 425.5,433.2 426.5,432.8 427.5,432.8 428.5,432.5 429.5,432.0 430.5,431.2 431.5,430.1 432.5,428.9 433.5,429.3 434.5,430.4 435.5,431.2 436.5,431.8 437.5,431.9 438.5,432.2 439.5,431.9 440.5,432.3 441.5,432.5 442.5,432.7 443.5,432.7 444.5,432.2 445.5,432.3 446.5,432.5 447.5,432.0 448.5,432.2 449.5,432.4 450.5,432.7 451.5,432.8 452.5,433.4 453.5,433.1 454.5,433.8 455.5,433.4 456.5,433.1 457.5,432.9 458.5,433.0 459.5,433.1 460.5,433.6 461.5,434.0 462.5,433.8 463.5,433.9 464.5,433.9 465.5,434.0 466.5,433.5 467.5,433.5 468.5,433.5 469.5,433.8 470.5,433.9 471.5,433.9 472.5,433.6 473.5,433.7 474.5,433.1 475.5,433.2 476.5,432.8 477.5,432.1 478.5,431.4 479.5,430.7 480.5,429.7 481.5,429.8 482.5,430.7 483.5,431.6 484.5,432.6 485.5,432.7 486.5,432.7 487.5,433.1 488.5,433.3 489.5,433.3 490.5,432.9 491.5,433.0 492.5,432.9 493.5,433.3 494.5,432.9 495.5,433.1 496.5,433.3 497.5,433.1 498.5,432.8 499.5,433.1 500.5,433.3 501.5,433.1 502.5,432.7 503.5,432.8 504.5,432.9 505.5,433.3 506.5,433.1 507.5,432.9 508.5,433.4 509.5,433.4 510.5,433.6 511.5,433.5 512.5,433.5 513.5,433.2 514.5,433.3 515.5,433.4 516.5,433.0 517.5,433.3 518.5,432.9 519.5,432.5 520.5,432.7 521.5,432.5 522.5,431.7 523.5,430.8 524.5,431.5 525.5,432.3 526.5,433.0 527.5,433.8 528.5,433.8 529.5,433.2 530.5,433.4 531.5,433.6 532.5,433.3 533.5,433.0 534.5,433.0 535.5,433.0 536.5,432.7 537.5,432.5 538.5,432.6 539.5,432.8 540.5,433.0 541.5,432.4 542.5,432.2 543.5,432.1 544.5,431.8 545.5,431.0 546.5,430.9 547.5,429.5 548.5,428.2 549.5,425.9 550.5,422.2 551.5,416.9 552.5,412.8 553.5,413.9 554.5,418.7 555.5,423.1 556.5,426.4 557.5,428.1 558.5,429.0 559.5,429.8 560.5,429.9 561.5,429.8 562.5,429.8 563.5,429.5 564.5,427.8 565.5,427.2 566.5,427.3 567.5,428.5 568.5,429.6 569.5,431.1 570.5,431.8 571.5,432.6 572.5,432.8 573.5,432.9 574.5,432.6 575.5,433.2 576.5,433.0 577.5,432.9 578.5,433.2 579.5,433.3 580.5,433.3 581.5,433.4 582.5,433.6 583.5,433.2 584.5,433.4 585.5,433.2 586.5,433.6 587.5,433.2 588.5,433.0 589.5,433.4 590.5,433.1 591.5,433.3 592.5,433.4 593.5,432.9 594.5,433.5 595.5,433.0 596.5,432.6 597.5,432.8 598.5,432.1 599.5,431.8 600.5,432.1 601.5,432.2 602.5,432.1 603.5,432.3 604.5,431.5 605.5,431.4 606.5,431.2 607.5,431.3 608.5,430.8 609.5,430.4 610.5,430.2 611.5,429.3 612.5,429.1 613.5,428.7 614.5,427.9 615.5,427.4 616.5,425.8 617.5,424.3 618.5,420.9 619.5,416.3 620.5,410.3 621.5,403.7 622.5,402.3 623.5,399.8 624.5,394.9 625.5,389.3 626.5,386.9 627.5,394.3 628.5,400.5 629.5,401.6 630.5,400.1 631.5,398.9 632.5,401.1 633.5,408.3 634.5,416.3 635.5,420.6 636.5,423.2 637.5,425.1 638.5,425.5 639.5,424.5 640.5,422.2 641.5,418.6 642.5,418.1 643.5,419.5 644.5,421.0 645.5,422.0 646.5,422.1 647.5,420.9 648.5,417.9 649.5,413.3 650.5,413.4 651.5,417.3 652.5,422.2 653.5,425.2 654.5,427.2 655.5,428.1 656.5,429.1 657.5,429.6 658.5,429.5 659.5,428.6 660.5,428.1 661.5,426.6 662.5,426.2 663.5,427.0 664.5,428.9 665.5,430.0 666.5,430.6 667.5,430.8 668.5,430.8 669.5,431.1 670.5,431.1 671.5,431.5 672.5,431.9 673.5,432.0 674.5,432.0 675.5,432.7 676.5,432.8 677.5,433.2 678.5,433.3 679.5,433.3 680.5,433.7 681.5,433.9 682.5,433.3 683.5,433.8 684.5,433.2 685.5,433.1 686.5,433.4 687.5,433.3 688.5,433.4 689.5,433.6 690.5,433.3 691.5,433.9 692.5,433.4 693.5,433.9 694.5,433.1 695.5,433.3 696.5,433.8 697.5,433.5 698.5,433.8 699.5,433.3 700.5,433.2 701.5,433.1 702.5,433.0 703.5,432.6 704.5,433.0 705.5,432.9 706.5,433.5 707.5,433.3 708.5,433.5 709.5,433.1 710.5,433.1 711.5,433.6 712.5,433.7 713.5,433.2 714.5,433.2 715.5,433.3 716.5,433.1 717.5,433.0 718.5,433.4 719.5,433.0 720.5,432.7 721.5,432.7 722.5,432.4 723.5,432.2 724.5,431.6 725.5,431.1 726.5,429.9 727.5,428.8 728.5,427.3 729.5,426.2 730.5,426.5 731.5,427.7 732.5,429.1 733.5,430.5 734.5,431.0 735.5,432.2 736.5,432.5 737.5,432.7 738.5,432.7 739.5,433.5 740.5,433.5 741.5,433.1 742.5,433.4 743.5,433.7 744.5,433.4 745.5,433.7 746.5,433.9 747.5,433.7 748.5,433.9 749.5,433.3 750.5,433.7 751.5,433.8 752.5,433.9 753.5,434.3 754.5,434.1 755.5,433.9 756.5,433.9 757.5,433.9 758.5,433.8 759.5,433.7 760.5,433.5 761.5,433.5 762.5,433.1 763.5,433.0 764.5,433.0 765.5,432.9 766.5,432.9 767.5,432.5 768.5,433.1 769.5,433.3 770.5,433.0 771.5,433.1 772.5,433.3 773.5,433.8 774.5,433.6 775.5,433.9 776.5,434.0 777.5,433.6 778.5,434.1 779.5,434.3 780.5,433.8 781.5,433.7 782.5,433.9 783.5,433.6 784.5,433.2 785.5,432.9 786.5,432.9 787.5,432.7 788.5,432.5 789.5,432.2 790.5,431.7 791.5,430.4 792.5,429.5 793.5,429.0 794.5,429.7 795.5,430.8 796.5,431.3 797.5,432.3 798.5,432.7 799.5,433.1 800.5,433.2 801.5,433.3 802.5,433.7 803.5,433.5 804.5,433.5 805.5,433.6 806.5,433.2 807.5,433.6 808.5,433.9 809.5,433.6 810.5,433.6 811.5,433.8 812.5,433.2 813.5,433.4 814.5,433.7 815.5,434.0 816.5,434.2 817.5,434.2 818.5,434.0 819.5,434.1 820.5,433.9 821.5,433.5 822.5,433.7 823.5,433.6 824.5,433.2 825.5,433.2 826.5,433.4 827.5,433.7 828.5,433.9 829.5,433.8 830.5,433.5 831.5,433.9 832.5,433.8 833.5,433.7 834.5,433.5 835.5,433.8 836.5,434.1 837.5,433.6 838.5,433.5 839.5,433.9 840.5,433.6 841.5,433.4 842.5,433.8 843.5,433.4 844.5,433.2 845.5,433.1 846.5,433.1 847.5,433.1 848.5,432.9 849.5,432.4 850.5,433.0 851.5,433.3 852.5,433.2 853.5,433.6 854.5,433.7 855.5,433.7 856.5,433.9 857.5,434.1 858.5,433.9 859.5,433.7 860.5,433.9 861.5,433.6 862.5,433.4 863.5,433.8 864.5,434.0 865.5,433.7 866.5,433.3 867.5,433.6 868.5,433.3 869.5,433.0 870.5,433.2 871.5,433.6 872.5,433.5 873.5,433.4 874.5,433.4 875.5,433.6 876.5,433.4 877.5,433.4 878.5,433.6 879.5,433.4 880.5,433.3 881.5,433.4 882.5,433.2 883.5,433.5 884.5,433.6 885.5,434.2 886.5,434.4 887.5,434.0 888.5,433.9 889.5,434.3 890.5,434.1 891.5,434.1 892.5,433.7 893.5,434.0 894.5,433.9 895.5,434.1 896.5,434.0 897.5,433.6 898.5,433.9 899.5,433.9 900.5,433.4 901.5,433.7 902.5,434.0 903.5,433.8 904.5,434.0 905.5,433.9 906.5,433.9 907.5,434.1 908.5,434.0 909.5,433.8 910.5,433.9 911.5,434.2 912.5,433.8 913.5,433.7 914.5,434.0 915.5,434.2 916.5,433.9 917.5,433.7 918.5,433.6 919.5,433.3 920.5,433.6 921.5,433.2 922.5,433.3 923.5,433.7 924.5,433.5 925.5,433.3 926.5,433.4 927.5,433.3 928.5,433.6 929.5,433.6 930.5,433.3 931.5,433.5 932.5,433.3 933.5,433.6 934.5,433.3 935.5,433.1 936.5,433.5 937.5,433.5 938.5,433.6 939.5,433.6 940.5,433.3 941.5,433.2 942.5,432.8 943.5,433.3 944.5,433.7 945.5,433.6 946.5,433.5 947.5,433.9 948.5,434.2 949.5,434.5 950.5,434.6 951.5,434.3 952.5,433.6 953.5,433.9 954.5,433.9 955.5,434.0 956.5,433.5 957.5,433.7 958.5,434.1 959.5,434.2 960.5,433.9 961.5,433.9 962.5,434.0 963.5,434.0 964.5,434.3 965.5,434.4 966.5,434.1 967.5,434.3 968.5,433.8 969.5,433.9 970.5,433.6 971.5,433.8 972.5,433.5 973.5,433.9 974.5,433.4 975.5,434.1 976.5,434.0 977.5,434.2 978.5,433.8 979.5,433.9 980.5,434.0 981.5,433.9 982.5,434.0 983.5,434.0 984.5,434.0 985.5,434.0 986.5,434.2 987.5,434.3 988.5,434.3 989.5,434.3 990.5,434.0 991.5,434.2 992.5,433.6 993.5,433.8 994.5,433.6 995.5,433.5 996.5,433.8 997.5,433.4 998.5,433.2 999.5,433.6 1000.5,433.6 1001.5,433.7 1002.5,433.9 1003.5,433.6 1004.5,433.8 1005.5,433.8 1006.5,433.3 1007.5,433.1 1008.5,433.7 1009.5,433.6 1010.5,433.4 1011.5,433.7 1012.5,434.0 1013.5,433.8 1014.5,434.3 1015.5,434.0 1016.5,434.2 1017.5,433.9 1018.5,434.2 1019.5,434.1 1020.5,434.2 1021.5,433.9 1022.5,434.0 1023.5,433.7 1024.5,433.7 1025.5,433.8 1026.5,433.8 1027.5,433.7 1028.5,433.8 1029.5,434.1 1030.5,434.4 1031.5,434.1 1032.5,434.4 1033.5,434.0 1034.5,434.0 1035.5,434.1 1036.5,434.3 1037.5,434.1 1038.5,434.2 1039.5,434.3 1040.5,434.6 1041.5,434.2 1042.5,434.5 1043.5,434.3 1044.5,434.2 1045.5,434.0 1046.5,434.0 1047.5,433.7 1048.5,434.1 1049.5,434.0 1050.5,433.9 1051.5,433.8 1052.5,434.4 1053.5,434.2 1054.5,434.1 1055.5,434.3 1056.5,434.0 1057.5,433.9 1058.5,433.9 1059.5,434.2 1060.5,434.1 1061.5,434.5 1062.5,434.4 1063.5,434.2 1064.5,434.6 1065.5,434.4 1066.5,434.3 1067.5,434.3 1068.5,434.7 1069.5,434.6 1070.5,434.3 1071.5,434.1 1072.5,434.3 1073.5,433.9 1074.5,433.5 1075.5,433.3 1076.5,433.7 1077.5,433.5 1078.5,433.8 1079.5,434.1 1080.5,434.0 1081.5,433.4 1082.5,433.5 1083.5,433.9 1084.5,433.7 1085.5,434.1 1086.5,434.1 1087.5,433.8 1088.5,434.4 1089.5,433.6 1090.5,433.7 1091.5,433.2 1092.5,433.5 1093.5,434.0 1094.5,434.4 1095.5,434.1 1096.5,433.7 1097.5,433.7 1098.5,433.5 1099.5,433.7 1100.5,433.6 1101.5,433.9 1102.5,433.5 1103.5,433.6 1104.5,433.6 1105.5,433.4 1106.5,433.5 1107.5,433.1 1108.5,433.2 1109.5,432.7 1110.5,433.4 1111.5,433.7 1112.5,433.8 1113.5,433.8 1114.5,433.5 1115.5,433.3 1116.5,433.3 1117.5,433.9 1118.5,434.2 1119.5,434.0 1120.5,433.9 1121.5,433.9 1122.5,434.2 1123.5,434.0 1124.5,433.5 1125.5,433.7 1126.5,433.5 1127.5,433.3 1128.5,433.2 1129.5,433.5 1130.5,433.5 1131.5,433.4 1132.5,433.3 1133.5,433.0 1134.5,433.5 1135.5,433.2 1136.5,432.9 1137.5,433.5 1138.5,433.6 1139.5,433.8 1140.5,433.5 1141.5,433.4 1142.5,433.3 1143.5,433.2 1144.5,433.3 1145.5,432.9 1146.5,433.1 1147.5,433.7 1148.5,433.6 1149.5,433.7 1150.5,433.6 1151.5,433.4 1152.5,433.6 1153.5,433.6 1154.5,433.9 1155.5,433.7 1156.5,434.0 1157.5,433.9 1158.5,434.0 1159.5,433.6 1160.5,433.4 1161.5,433.3 1162.5,433.5 1163.5,433.3 1164.5,433.4 1165.5,433.3 1166.5,432.7 1167.5,432.0 1168.5,431.3 1169.5,430.7 1170.5,429.9 1171.5,428.1 1172.5,426.9 1173.5,425.9 1174.5,425.9 1175.5,426.5 1176.5,427.3 1177.5,428.2 1178.5,429.6 1179.5,430.5 1180.5,431.6 1181.5,431.5 1182.5,432.3 1183.5,432.2 1184.5,432.6 1185.5,432.9 1186.5,432.9 1187.5,433.4 1188.5,433.5 1189.5,433.4 1190.5,433.5 1191.5,433.6 1192.5,433.4 1193.5,433.5 1194.5,433.8 1195.5,433.4 1196.5,433.1 1197.5,433.2 1198.5,433.7 1199.5,434.2 1200.5,433.7 1201.5,433.6 1202.5,433.0 1203.5,433.2 1204.5,432.9 1205.5,433.0 1206.5,433.3 1207.5,433.0 1208.5,433.2 1209.5,433.3 1210.5,433.3 1211.5,433.3 1212.5,433.1 1213.5,433.5 1214.5,433.2 1215.5,433.4 1216.5,432.9 1217.5,432.9 1218.5,432.7 1219.5,432.5 1220.5,432.4 1221.5,432.1 1222.5,431.6 1223.5,432.3 1224.5,432.4 1225.5,433.0 1226.5,433.5 1227.5,433.7 1228.5,433.5 1229.5,433.1 1230.5,433.9 1231.5,433.3 1232.5,433.6 1233.5,433.7 1234.5,433.8 1235.5,434.0 1236.5,433.8 1237.5,434.1 1238.5,434.0 1239.5,433.7 1240.5,434.0 1241.5,434.0 1242.5,433.9 1243.5,433.5 1244.5,433.7 1245.5,433.7 1246.5,433.6 1247.5,433.2 1248.5,432.9 1249.5,433.1 1250.5,433.1 1251.5,433.1 1252.5,433.4 1253.5,433.7 1254.5,433.5 1255.5,433.8 1256.5,433.5 1257.5,433.9 1258.5,433.4 1259.5,433.6 1260.5,433.5 1261.5,433.2 1262.5,433.1 1263.5,433.4 1264.5,433.4 1265.5,433.3 1266.5,433.3 1267.5,433.3 1268.5,433.5 1269.5,433.8 1270.5,433.5 1271.5,433.3 1272.5,433.7 1273.5,434.0 1274.5,434.2 1275.5,433.7 1276.5,433.7 1277.5,433.6 1278.5,433.7 1279.5,433.6 1280.5,433.7 1281.5,433.6 1282.5,434.0 1283.5,434.1 1284.5,434.0 1285.5,433.7 1286.5,433.6 1287.5,433.4 1288.5,433.4 1289.5,433.3 1290.5,433.6 1291.5,433.3 1292.5,433.1 1293.5,433.8 1294.5,433.5 1295.5,433.4 1296.5,433.5 1297.5,433.2 1298.5,433.3 1299.5,433.5 1300.5,433.5 1301.5,433.7 1302.5,433.4 1303.5,433.3 1304.5,433.5 1305.5,433.1 1306.5,433.2 1307.5,433.2 1308.5,433.1 1309.5,433.3 1310.5,433.1 1311.5,433.3 1312.5,433.3 1313.5,433.6 1314.5,433.6 1315.5,433.9 1316.5,434.1 1317.5,434.0 1318.5,434.1 1319.5,434.1 1320.5,433.9 1321.5,433.9 1322.5,434.4 1323.5,434.3 1324.5,434.2 1325.5,434.3 1326.5,434.7 1327.5,434.2 1328.5,434.3 1329.5,434.2 1330.5,434.5 1331.5,434.5 1332.5,434.3 1333.5,434.1 1334.5,433.7 1335.5,433.8 1336.5,433.9 1337.5,433.6 1338.5,433.8 1339.5,433.7 1340.5,433.5 1341.5,433.3 1342.5,433.3 1343.5,433.2 1344.5,433.3 1345.5,433.3 1346.5,433.9 1347.5,433.4 1348.5,434.1 1349.5,433.7 1350.5,433.8 1351.5,434.0" fill="none" stroke="#FF00FF" stroke-width="5.0" stroke-linejoin="round" stroke-linecap="butt"/>
<path d="M136.5,540.2 137.5,540.1 138.5,540.0 139.5,540.5 140.5,540.4 141.5,540.4 142.5,540.1 143.5,540.3 144.5,540.5 145.5,540.4 146.5,540.5 147.5,540.7 148.5,540.5 149.5,540.8 150.5,540.5 151.5,540.4 152.5,541.0 153.5,540.6 154.5,541.0 155.5,541.2 156.5,540.9 157.5,540.8 158.5,540.4 159.5,540.4 160.5,540.3 161.5,540.0 162.5,539.9 163.5,540.1 164.5,540.0 165.5,540.0 166.5,540.1 167.5,539.8 168.5,539.8 169.5,539.5 170.5,539.8 171.5,539.4 172.5,539.2 173.5,539.0 174.5,539.4 175.5,539.5 176.5,538.8 177.5,539.3 178.5,539.3 179.5,539.2 180.5,538.6 181.5,538.4 182.5,538.7 183.5,538.0 184.5,537.6 185.5,537.8 186.5,537.4 187.5,537.8 188.5,537.2 189.5,536.7 190.5,536.6 191.5,536.2 192.5,536.0 193.5,535.3 194.5,535.1 195.5,535.1 196.5,534.3 197.5,533.4 198.5,532.9 199.5,532.1 200.5,530.8 201.5,529.5 202.5,528.4 203.5,526.3 204.5,525.1 205.5,523.1 206.5,520.6 207.5,517.3 208.5,512.6 209.5,507.5 210.5,501.2 211.5,492.9 212.5,483.7 213.5,473.6 214.5,463.8 215.5,456.2 216.5,453.2 217.5,453.9 218.5,453.4 219.5,497.2 220.5,523.9 221.5,531.8 222.5,535.6 223.5,537.5 224.5,537.6 225.5,538.4 226.5,538.9 227.5,539.4 228.5,539.4 229.5,539.3 230.5,539.2 231.5,539.3 232.5,538.7 233.5,537.6 234.5,537.4 235.5,536.9 236.5,535.6 237.5,534.7 238.5,532.9 239.5,530.6 240.5,527.7 241.5,523.5 242.5,517.1 243.5,508.6 244.5,498.1 245.5,490.1 246.5,488.9 247.5,488.7 248.5,489.0 249.5,489.1 250.5,492.9 251.5,501.6 252.5,510.3 253.5,517.9 254.5,523.7 255.5,527.4 256.5,530.3 257.5,532.5 258.5,533.7 259.5,535.1 260.5,535.9 261.5,536.9 262.5,537.6 263.5,538.1 264.5,538.4 265.5,538.6 266.5,538.9 267.5,538.9 268.5,539.3 269.5,539.5 270.5,539.3 271.5,539.6 272.5,540.1 273.5,540.2 274.5,540.1 275.5,540.5 276.5,540.2 277.5,539.9 278.5,539.5 279.5,540.3 280.5,540.6 281.5,540.6 282.5,540.8 283.5,541.0 284.5,541.2 285.5,540.7 286.5,540.9 287.5,541.0 288.5,540.8 289.5,540.6 290.5,540.9 291.5,540.5 292.5,540.6 293.5,541.1 294.5,540.7 295.5,540.9 296.5,540.6 297.5,540.7 298.5,540.8 299.5,540.9 300.5,540.6 301.5,540.7 302.5,541.0 303.5,540.8 304.5,540.4 305.5,540.6 306.5,540.8 307.5,540.3 308.5,540.6 309.5,540.3 310.5,540.4 311.5,540.6 312.5,540.6 313.5,540.2 314.5,540.2 315.5,540.4 316.5,540.3 317.5,540.4 318.5,540.7 319.5,540.8 320.5,540.9 321.5,540.9 322.5,540.7 323.5,541.0 324.5,540.5 325.5,540.8 326.5,540.9 327.5,540.9 328.5,540.8 329.5,540.7 330.5,540.4 331.5,539.8 332.5,540.5 333.5,540.2 334.5,540.3 335.5,540.2 336.5,540.5 337.5,540.9 338.5,540.7 339.5,540.7 340.5,540.4 341.5,540.5 342.5,540.8 343.5,540.3 344.5,540.4 345.5,540.7 346.5,540.5 347.5,540.1 348.5,540.4 349.5,540.4 350.5,540.0 351.5,539.5 352.5,539.2 353.5,538.3 354.5,537.1 355.5,535.4 356.5,532.5 357.5,528.8 358.5,521.7 359.5,515.5 360.5,521.0 361.5,533.4 362.5,536.9 363.5,538.3 364.5,538.8 365.5,539.2 366.5,539.2 367.5,538.6 368.5,538.2 369.5,538.1 370.5,537.5 371.5,536.3 372.5,535.2 373.5,533.0 374.5,530.1 375.5,525.6 376.5,518.8 377.5,509.2 378.5,499.8 379.5,504.3 380.5,523.6 381.5,532.5 382.5,535.8 383.5,537.3 384.5,537.6 385.5,538.5 386.5,539.1 387.5,539.0 388.5,539.3 389.5,539.6 390.5,539.8 391.5,539.7 392.5,539.4 393.5,539.6 394.5,539.2 395.5,538.7 396.5,538.1 397.5,537.0 398.5,535.8 399.5,534.4 400.5,532.3 401.5,532.0 402.5,533.7 403.5,536.0 404.5,537.6 405.5,539.1 406.5,539.8 407.5,539.5 408.5,539.7 409.5,539.9 410.5,540.1 411.5,540.4 412.5,539.8 413.5,539.7 414.5,539.7 415.5,539.8 416.5,539.7 417.5,539.5 418.5,539.2 419.5,538.0 420.5,537.9 421.5,538.5 422.5,538.7 423.5,539.3 424.5,539.2 425.5,539.4 426.5,539.2 427.5,538.6 428.5,538.7 429.5,537.6 430.5,536.6 431.5,536.2 432.5,537.1 433.5,538.0 434.5,539.0 435.5,539.5 436.5,540.2 437.5,539.8 438.5,539.9 439.5,540.0 440.5,540.2 441.5,540.4 442.5,540.6 443.5,540.7 444.5,540.7 445.5,540.7 446.5,540.8 447.5,540.7 448.5,541.2 449.5,541.3 450.5,541.5 451.5,541.2 452.5,541.1 453.5,541.7 454.5,541.5 455.5,541.0 456.5,541.3 457.5,540.9 458.5,540.8 459.5,541.2 460.5,540.8 461.5,540.5 462.5,540.9 463.5,540.4 464.5,540.1 465.5,540.4 466.5,541.0 467.5,540.8 468.5,541.3 469.5,541.0 470.5,540.7 471.5,540.6 472.5,540.2 473.5,540.1 474.5,539.7 475.5,539.1 476.5,538.4 477.5,537.6 478.5,536.7 479.5,536.9 480.5,537.4 481.5,538.2 482.5,538.6 483.5,539.0 484.5,539.2 485.5,539.8 486.5,539.9 487.5,540.1 488.5,540.4 489.5,540.5 490.5,540.4 491.5,541.0 492.5,541.3 493.5,540.9 494.5,540.7 495.5,540.6 496.5,540.5 497.5,540.3 498.5,540.5 499.5,541.0 500.5,540.9 501.5,540.3 502.5,540.7 503.5,540.7 504.5,540.3 505.5,540.2 506.5,540.5 507.5,540.1 508.5,540.4 509.5,540.0 510.5,540.3 511.5,540.0 512.5,540.6 513.5,540.9 514.5,541.0 515.5,541.1 516.5,540.5 517.5,540.8 518.5,541.0 519.5,540.8 520.5,540.4 521.5,540.4 522.5,540.1 523.5,540.0 524.5,540.4 525.5,540.5 526.5,540.9 527.5,540.8 528.5,540.5 529.5,540.8 530.5,540.9 531.5,540.8 532.5,540.9 533.5,541.1 534.5,540.5 535.5,540.4 536.5,540.4 537.5,539.9 538.5,540.2 539.5,539.8 540.5,539.8 541.5,539.5 542.5,539.0 543.5,538.9 544.5,538.7 545.5,538.0 546.5,537.4 547.5,536.5 548.5,535.4 549.5,533.2 550.5,529.4 551.5,524.3 552.5,521.8 553.5,524.6 554.5,529.2 555.5,532.9 556.5,535.3 557.5,536.6 558.5,537.3 559.5,537.6 560.5,537.5 561.5,537.7 562.5,536.6 563.5,534.7 564.5,533.2 565.5,532.5 566.5,534.1 567.5,536.1 568.5,537.1 569.5,538.3 570.5,538.7 571.5,539.0 572.5,539.4 573.5,539.7 574.5,539.8 575.5,539.7 576.5,540.2 577.5,540.6 578.5,540.2 579.5,540.1 580.5,539.9 581.5,540.4 582.5,540.7 583.5,540.8 584.5,540.7 585.5,541.1 586.5,540.3 587.5,540.2 588.5,540.4 589.5,540.5 590.5,540.4 591.5,540.4 592.5,540.0 593.5,540.2 594.5,540.1 595.5,539.8 596.5,540.3 597.5,540.4 598.5,540.1 599.5,540.1 600.5,539.8 601.5,539.3 602.5,539.1 603.5,538.9 604.5,538.9 605.5,539.2 606.5,538.7 607.5,538.3 608.5,538.2 609.5,538.0 610.5,537.4 611.5,537.1 612.5,536.6 613.5,536.6 614.5,535.3 615.5,533.7 616.5,532.3 617.5,530.1 618.5,526.4 619.5,521.0 620.5,511.1 621.5,496.9 622.5,495.5 623.5,498.9 624.5,495.6 625.5,490.8 626.5,489.1 627.5,496.4 628.5,502.7 629.5,504.0 630.5,503.1 631.5,502.9 632.5,508.2 633.5,516.8 634.5,523.7 635.5,527.7 636.5,530.2 637.5,531.2 638.5,531.1 639.5,529.7 640.5,526.6 641.5,522.1 642.5,521.4 643.5,523.1 644.5,523.9 645.5,524.7 646.5,522.9 647.5,518.6 648.5,515.6 649.5,519.6 650.5,525.3 651.5,529.9 652.5,532.8 653.5,534.4 654.5,535.3 655.5,536.2 656.5,536.3 657.5,536.5 658.5,536.7 659.5,536.7 660.5,535.2 661.5,534.9 662.5,535.3 663.5,536.5 664.5,538.0 665.5,538.8 666.5,539.5 667.5,539.5 668.5,540.1 669.5,540.2 670.5,540.0 671.5,540.0 672.5,539.9 673.5,539.7 674.5,539.7 675.5,539.7 676.5,539.8 677.5,539.4 678.5,539.8 679.5,540.1 680.5,540.0 681.5,539.8 682.5,539.8 683.5,540.1 684.5,540.3 685.5,540.6 686.5,540.5 687.5,540.8 688.5,540.5 689.5,540.6 690.5,540.7 691.5,540.7 692.5,540.3 693.5,540.6 694.5,541.1 695.5,540.8 696.5,540.9 697.5,540.9 698.5,541.4 699.5,541.4 700.5,541.3 701.5,541.5 702.5,541.2 703.5,540.8 704.5,540.8 705.5,540.8 706.5,540.9 707.5,541.1 708.5,540.7 709.5,540.6 710.5,540.7 711.5,540.6 712.5,540.7 713.5,540.5 714.5,540.6 715.5,540.2 716.5,540.1 717.5,540.3 718.5,540.5 719.5,540.3 720.5,540.0 721.5,539.3 722.5,539.2 723.5,539.0 724.5,538.3 725.5,538.1 726.5,537.6 727.5,536.3 728.5,535.4 729.5,535.5 730.5,536.4 731.5,537.3 732.5,538.8 733.5,538.8 734.5,539.4 735.5,539.3 736.5,539.7 737.5,540.1 738.5,540.4 739.5,540.4 740.5,540.6 741.5,540.7 742.5,540.4 743.5,540.6 744.5,540.7 745.5,540.7 746.5,541.0 747.5,540.7 748.5,541.0 749.5,540.9 750.5,541.0 751.5,541.2 752.5,541.1 753.5,541.1 754.5,541.0 755.5,541.0 756.5,540.9 757.5,540.9 758.5,540.4 759.5,540.6 760.5,540.5 761.5,540.6 762.5,540.4 763.5,540.4 764.5,540.7 765.5,540.3 766.5,540.2 767.5,539.9 768.5,540.0 769.5,540.3 770.5,540.5 771.5,540.2 772.5,540.6 773.5,541.0 774.5,540.9 775.5,541.0 776.5,541.0 777.5,540.9 778.5,540.4 779.5,540.7 780.5,540.7 781.5,540.3 782.5,540.0 783.5,540.3 784.5,539.9 785.5,540.1 786.5,539.9 787.5,539.7 788.5,538.7 789.5,538.7 790.5,538.2 791.5,537.3 792.5,536.3 793.5,536.0 794.5,537.0 795.5,538.0 796.5,538.8 797.5,539.3 798.5,539.7 799.5,540.5 800.5,541.0 801.5,540.8 802.5,540.7 803.5,541.0 804.5,541.4 805.5,541.0 806.5,541.2 807.5,541.2 808.5,540.7 809.5,540.9 810.5,540.5 811.5,540.2 812.5,540.7 813.5,540.9 814.5,540.3 815.5,540.5 816.5,540.8 817.5,541.4 818.5,541.6 819.5,541.1 820.5,541.3 821.5,541.4 822.5,541.6 823.5,541.4 824.5,541.7 825.5,541.3 826.5,541.3 827.5,541.3 828.5,540.9 829.5,540.7 830.5,540.9 831.5,540.6 832.5,541.0 833.5,540.9 834.5,540.2 835.5,540.4 836.5,540.2 837.5,539.9 838.5,540.0 839.5,540.2 840.5,540.3 841.5,540.3 842.5,540.7 843.5,540.2 844.5,540.9 845.5,540.9 846.5,540.4 847.5,540.7 848.5,540.9 849.5,540.5 850.5,540.6 851.5,540.4 852.5,540.6 853.5,540.3 854.5,540.7 855.5,540.7 856.5,541.1 857.5,540.7 858.5,540.8 859.5,540.8 860.5,540.9 861.5,540.9 862.5,541.3 863.5,540.7 864.5,541.0 865.5,541.0 866.5,541.0 867.5,541.3 868.5,541.4 869.5,541.5 870.5,541.7 871.5,541.7 872.5,541.5 873.5,541.9 874.5,541.9 875.5,541.7 876.5,541.7 877.5,541.7 878.5,541.4 879.5,541.4 880.5,541.8 881.5,541.5 882.5,541.7 883.5,541.6 884.5,541.7 885.5,541.4 886.5,541.7 887.5,541.5 888.5,541.8 889.5,541.8 890.5,541.6 891.5,541.2 892.5,541.1 893.5,541.0 894.5,540.9 895.5,541.4 896.5,541.4 897.5,541.0 898.5,541.3 899.5,540.8 900.5,540.9 901.5,540.8 902.5,540.6 903.5,540.6 904.5,540.8 905.5,540.8 906.5,541.0 907.5,541.1 908.5,540.9 909.5,540.9 910.5,541.1 911.5,541.2 912.5,541.0 913.5,540.9 914.5,540.9 915.5,540.9 916.5,540.8 917.5,540.9 918.5,541.3 919.5,541.2 920.5,541.0 921.5,541.5 922.5,541.5 923.5,541.6 924.5,541.8 925.5,541.8 926.5,541.3 927.5,541.6 928.5,541.8 929.5,541.3 930.5,541.8 931.5,541.4 932.5,541.5 933.5,541.4 934.5,541.4 935.5,541.1 936.5,540.8 937.5,540.4 938.5,540.8 939.5,540.2 940.5,541.0 941.5,540.8 942.5,541.1 943.5,541.0 944.5,540.7 945.5,540.6 946.5,540.9 947.5,540.9 948.5,541.1 949.5,541.2 950.5,541.2 951.5,540.9 952.5,541.0 953.5,541.0 954.5,540.7 955.5,540.8 956.5,541.1 957.5,541.2 958.5,540.6 959.5,540.5 960.5,541.2 961.5,541.2 962.5,541.7 963.5,541.7 964.5,541.4 965.5,541.3 966.5,541.4 967.5,541.5 968.5,541.6 969.5,541.8 970.5,541.8 971.5,541.4 972.5,541.3 973.5,541.1 974.5,540.7 975.5,540.8 976.5,540.7 977.5,540.4 978.5,540.6 979.5,540.7 980.5,540.5 981.5,541.0 982.5,540.7 983.5,540.8 984.5,540.7 985.5,540.7 986.5,540.6 987.5,540.5 988.5,540.8 989.5,541.1 990.5,540.9 991.5,541.1 992.5,541.1 993.5,541.6 994.5,541.8 995.5,541.6 996.5,541.9 997.5,541.6 998.5,541.6 999.5,541.5 1000.5,541.5 1001.5,541.6 1002.5,541.6 1003.5,541.6 1004.5,541.5 1005.5,541.0 1006.5,541.1 1007.5,540.8 1008.5,541.0 1009.5,541.3 1010.5,541.1 1011.5,540.9 1012.5,541.2 1013.5,540.7 1014.5,540.6 1015.5,540.5 1016.5,540.6 1017.5,540.2 1018.5,540.5 1019.5,540.7 1020.5,541.2 1021.5,540.9 1022.5,541.2 1023.5,541.1 1024.5,540.9 1025.5,540.9 1026.5,541.2 1027.5,540.8 1028.5,541.2 1029.5,541.0 1030.5,541.4 1031.5,541.1 1032.5,540.8 1033.5,540.8 1034.5,540.6 1035.5,541.0 1036.5,541.0 1037.5,540.6 1038.5,540.6 1039.5,540.9 1040.5,540.9 1041.5,541.0 1042.5,541.1 1043.5,540.6 1044.5,540.5 1045.5,540.4 1046.5,540.6 1047.5,540.8 1048.5,540.8 1049.5,540.6 1050.5,540.9 1051.5,540.6 1052.5,540.4 1053.5,540.2 1054.5,540.3 1055.5,540.6 1056.5,540.7 1057.5,541.0 1058.5,540.8 1059.5,540.6 1060.5,540.6 1061.5,540.7 1062.5,541.0 1063.5,541.1 1064.5,540.6 1065.5,540.9 1066.5,540.6 1067.5,541.0 1068.5,540.9 1069.5,541.2 1070.5,541.2 1071.5,540.9 1072.5,540.9 1073.5,540.7 1074.5,541.1 1075.5,540.9 1076.5,540.6 1077.5,540.6 1078.5,541.2 1079.5,541.2 1080.5,540.8 1081.5,540.9 1082.5,541.0 1083.5,541.3 1084.5,541.1 1085.5,541.1 1086.5,541.3 1087.5,541.2 1088.5,541.3 1089.5,541.1 1090.5,541.4 1091.5,541.4 1092.5,541.6 1093.5,541.6 1094.5,541.1 1095.5,541.5 1096.5,541.3 1097.5,541.2 1098.5,541.0 1099.5,541.5 1100.5,541.1 1101.5,541.4 1102.5,541.0 1103.5,541.1 1104.5,541.0 1105.5,541.0 1106.5,541.3 1107.5,540.9 1108.5,540.5 1109.5,541.1 1110.5,541.0 1111.5,540.7 1112.5,540.6 1113.5,540.7 1114.5,540.9 1115.5,541.2 1116.5,540.9 1117.5,541.1 1118.5,540.9 1119.5,540.5 1120.5,540.7 1121.5,540.7 1122.5,541.2 1123.5,541.0 1124.5,541.0 1125.5,540.8 1126.5,540.8 1127.5,540.7 1128.5,540.6 1129.5,540.5 1130.5,540.5 1131.5,540.8 1132.5,540.6 1133.5,541.1 1134.5,540.7 1135.5,541.0 1136.5,540.6 1137.5,540.9 1138.5,540.4 1139.5,540.5 1140.5,540.4 1141.5,540.4 1142.5,540.6 1143.5,540.7 1144.5,540.7 1145.5,540.1 1146.5,540.2 1147.5,540.2 1148.5,540.3 1149.5,540.4 1150.5,541.0 1151.5,541.0 1152.5,540.8 1153.5,540.2 1154.5,540.7 1155.5,540.5 1156.5,540.6 1157.5,540.7 1158.5,540.4 1159.5,540.6 1160.5,540.4 1161.5,540.5 1162.5,540.3 1163.5,540.2 1164.5,539.9 1165.5,539.3 1166.5,538.8 1167.5,537.9 1168.5,537.0 1169.5,536.2 1170.5,534.7 1171.5,534.0 1172.5,532.7 1173.5,532.6 1174.5,533.5 1175.5,534.7 1176.5,536.3 1177.5,537.8 1178.5,538.3 1179.5,538.8 1180.5,539.3 1181.5,539.8 1182.5,540.3 1183.5,540.4 1184.5,540.9 1185.5,540.6 1186.5,540.8 1187.5,540.7 1188.5,540.3 1189.5,540.2 1190.5,540.6 1191.5,540.7 1192.5,540.4 1193.5,540.3 1194.5,540.8 1195.5,540.8 1196.5,541.0 1197.5,540.7 1198.5,541.0 1199.5,541.0 1200.5,541.0 1201.5,540.9 1202.5,540.5 1203.5,540.2 1204.5,540.2 1205.5,539.8 1206.5,540.1 1207.5,539.8 1208.5,540.0 1209.5,540.4 1210.5,540.6 1211.5,540.4 1212.5,540.4 1213.5,540.1 1214.5,539.9 1215.5,540.2 1216.5,540.3 1217.5,540.2 1218.5,540.0 1219.5,539.3 1220.5,539.0 1221.5,538.6 1222.5,537.3 1223.5,536.5 1224.5,535.7 1225.5,535.5 1226.5,536.9 1227.5,537.8 1228.5,538.4 1229.5,538.9 1230.5,539.4 1231.5,539.9 1232.5,539.9 1233.5,540.1 1234.5,540.1 1235.5,540.4 1236.5,540.6 1237.5,540.6 1238.5,540.8 1239.5,541.0 1240.5,541.2 1241.5,540.9 1242.5,540.8 1243.5,540.4 1244.5,540.7 1245.5,541.1 1246.5,540.8 1247.5,540.9 1248.5,541.1 1249.5,541.3 1250.5,541.0 1251.5,541.2 1252.5,541.3 1253.5,541.1 1254.5,541.1 1255.5,541.8 1256.5,541.8 1257.5,541.6 1258.5,541.5 1259.5,541.5 1260.5,541.2 1261.5,541.4 1262.5,541.5 1263.5,541.8 1264.5,541.9 1265.5,541.7 1266.5,542.1 1267.5,541.5 1268.5,541.9 1269.5,541.4 1270.5,541.5 1271.5,541.1 1272.5,541.2 1273.5,541.1 1274.5,541.5 1275.5,541.3 1276.5,540.9 1277.5,541.0 1278.5,540.9 1279.5,541.0 1280.5,540.8 1281.5,540.9 1282.5,541.2 1283.5,541.2 1284.5,540.9 1285.5,540.5 1286.5,540.6 1287.5,541.0 1288.5,540.9 1289.5,541.1 1290.5,541.4 1291.5,541.0 1292.5,541.2 1293.5,540.8 1294.5,540.9 1295.5,541.3 1296.5,540.7 1297.5,541.4 1298.5,541.5 1299.5,541.5 1300.5,541.9 1301.5,541.8 1302.5,541.1 1303.5,541.4 1304.5,541.1 1305.5,541.0 1306.5,541.4 1307.5,541.2 1308.5,540.9 1309.5,541.1 1310.5,541.1 1311.5,541.3 1312.5,541.1 1313.5,541.4 1314.5,540.9 1315.5,540.7 1316.5,540.7 1317.5,540.7 1318.5,540.3 1319.5,540.6 1320.5,540.9 1321.5,541.2 1322.5,540.9 1323.5,541.0 1324.5,540.9 1325.5,540.8 1326.5,541.2 1327.5,540.9 1328.5,540.5 1329.5,540.2 1330.5,540.0 1331.5,540.4 1332.5,540.5 1333.5,540.7 1334.5,540.5 1335.5,540.5 1336.5,540.6 1337.5,540.7 1338.5,540.7 1339.5,540.4 1340.5,540.8 1341.5,541.0 1342.5,541.2 1343.5,541.3 1344.5,541.5 1345.5,541.4 1346.5,541.7 1347.5,541.3 1348.5,541.2 1349.5,541.1 1350.5,541.1" fill="none" stroke="#0000FF" stroke-width="5.0" stroke-linejoin="round" stroke-linecap="butt"/>
<path d="M136.5,648.0 137.5,648.3 138.5,648.4 139.5,647.8 140.5,648.2 141.5,648.1 142.5,648.0 143.5,648.2 144.5,647.6 145.5,647.8 146.5,647.6 147.5,647.7 148.5,647.7 149.5,647.7 150.5,647.2 151.5,647.9 152.5,647.7 153.5,647.6 154.5,647.5 155.5,647.7 156.5,647.6 157.5,647.4 158.5,647.0 159.5,647.2 160.5,646.9 161.5,646.6 162.5,647.0 163.5,646.9 164.5,646.8 165.5,647.1 166.5,647.6 167.5,647.2 168.5,646.9 169.5,646.3 170.5,646.6 171.5,646.3 172.5,646.7 173.5,646.3 174.5,646.5 175.5,646.2 176.5,646.5 177.5,646.1 178.5,645.5 179.5,645.9 180.5,645.8 181.5,645.5 182.5,645.2 183.5,644.9 184.5,645.4 185.5,644.6 186.5,645.1 187.5,644.7 188.5,644.9 189.5,644.4 190.5,644.1 191.5,643.4 192.5,643.2 193.5,643.5 194.5,643.1 195.5,642.2 196.5,641.7 197.5,640.8 198.5,640.8 199.5,640.1 200.5,639.3 201.5,638.0 202.5,636.6 203.5,635.5 204.5,633.9 205.5,631.6 206.5,628.7 207.5,626.0 208.5,622.0 209.5,617.4 210.5,611.6 211.5,604.2 212.5,595.2 213.5,585.4 214.5,574.5 215.5,564.2 216.5,556.8 217.5,554.7 218.5,554.8 219.5,558.4 220.5,609.1 221.5,631.4 222.5,638.8 223.5,642.1 224.5,644.0 225.5,644.5 226.5,644.7 227.5,644.9 228.5,645.0 229.5,644.5 230.5,644.3 231.5,643.6 232.5,642.8 233.5,641.4 234.5,638.7 235.5,636.1 236.5,631.8 237.5,625.7 238.5,618.0 239.5,609.7 240.5,605.9 241.5,605.7 242.5,606.0 243.5,606.2 244.5,607.1 245.5,612.2 246.5,619.8 247.5,626.6 248.5,631.4 249.5,635.3 250.5,638.2 251.5,640.6 252.5,642.0 253.5,643.4 254.5,643.8 255.5,644.8 256.5,645.8 257.5,645.9 258.5,646.2 259.5,646.4 260.5,646.5 261.5,647.1 262.5,646.9 263.5,646.8 264.5,647.3 265.5,647.9 266.5,647.6 267.5,648.1 268.5,647.9 269.5,648.3 270.5,648.0 271.5,647.8 272.5,647.6 273.5,648.1 274.5,647.6 275.5,647.7 276.5,647.6 277.5,647.4 278.5,647.9 279.5,648.0 280.5,648.2 281.5,648.1 282.5,648.3 283.5,648.3 284.5,648.2 285.5,648.0 286.5,648.3 287.5,647.8 288.5,648.1 289.5,648.2 290.5,647.9 291.5,647.8 292.5,648.0 293.5,648.2 294.5,647.8 295.5,648.0 296.5,648.2 297.5,647.9 298.5,647.8 299.5,647.9 300.5,647.9 301.5,648.1 302.5,648.0 303.5,647.8 304.5,647.8 305.5,648.0 306.5,648.2 307.5,647.9 308.5,648.4 309.5,648.0 310.5,648.3 311.5,648.7 312.5,648.4 313.5,648.5 314.5,648.1 315.5,647.8 316.5,647.8 317.5,647.7 318.5,647.3 319.5,647.7 320.5,647.7 321.5,647.8 322.5,648.0 323.5,648.2 324.5,648.0 325.5,647.7 326.5,647.9 327.5,647.8 328.5,647.6 329.5,647.6 330.5,647.3 331.5,647.3 332.5,647.4 333.5,647.8 334.5,647.6 335.5,647.0 336.5,647.2 337.5,647.6 338.5,647.6 339.5,647.3 340.5,646.7 341.5,647.3 342.5,646.9 343.5,647.5 344.5,647.3 345.5,647.4 346.5,647.1 347.5,647.0 348.5,646.7 349.5,646.9 350.5,646.8 351.5,646.6 352.5,646.2 353.5,645.5 354.5,644.1 355.5,642.5 356.5,640.8 357.5,637.1 358.5,631.4 359.5,622.6 360.5,617.1 361.5,631.9 362.5,640.9 363.5,643.9 364.5,644.9 365.5,645.1 366.5,645.1 367.5,645.0 368.5,644.8 369.5,644.5 370.5,644.1 371.5,643.0 372.5,641.9 373.5,640.3 374.5,637.8 375.5,634.2 376.5,629.2 377.5,620.3 378.5,608.6 379.5,599.0 380.5,607.4 381.5,629.9 382.5,639.0 383.5,642.9 384.5,644.7 385.5,645.3 386.5,646.4 387.5,646.4 388.5,646.2 389.5,646.9 390.5,647.1 391.5,646.9 392.5,646.8 393.5,646.7 394.5,646.3 395.5,646.3 396.5,645.6 397.5,645.2 398.5,644.2 399.5,643.1 400.5,641.7 401.5,639.1 402.5,635.3 403.5,633.1 404.5,634.8 405.5,638.7 406.5,641.4 407.5,643.5 408.5,644.5 409.5,645.3 410.5,645.8 411.5,645.8 412.5,645.9 413.5,646.3 414.5,646.0 415.5,646.2 416.5,646.1 417.5,645.8 418.5,645.6 419.5,645.5 420.5,644.9 421.5,643.8 422.5,642.9 423.5,643.4 424.5,644.5 425.5,645.2 426.5,645.2 427.5,645.0 428.5,644.8 429.5,643.7 430.5,642.8 431.5,640.3 432.5,638.6 433.5,639.8 434.5,641.7 435.5,643.7 436.5,644.7 437.5,646.1 438.5,646.4 439.5,646.8 440.5,647.3 441.5,648.0 442.5,647.5 443.5,648.0 444.5,647.9 445.5,648.4 446.5,648.4 447.5,648.0 448.5,648.4 449.5,648.3 450.5,647.8 451.5,648.0 452.5,647.6 453.5,647.5 454.5,647.7 455.5,647.8 456.5,647.7 457.5,648.4 458.5,648.5 459.5,648.1 460.5,648.5 461.5,647.9 462.5,647.9 463.5,648.0 464.5,648.2 465.5,648.5 466.5,648.5 467.5,648.0 468.5,648.2 469.5,647.8 470.5,647.5 471.5,647.5 472.5,647.6 473.5,647.7 474.5,647.8 475.5,647.6 476.5,647.4 477.5,646.8 478.5,646.4 479.5,645.3 480.5,644.6 481.5,644.9 482.5,645.4 483.5,646.4 484.5,646.9 485.5,647.7 486.5,648.3 487.5,648.5 488.5,648.5 489.5,648.2 490.5,648.4 491.5,648.8 492.5,648.4 493.5,648.3 494.5,648.7 495.5,648.8 496.5,648.3 497.5,648.6 498.5,648.6 499.5,648.7 500.5,648.5 501.5,648.8 502.5,648.3 503.5,648.3 504.5,648.1 505.5,648.5 506.5,648.4 507.5,648.3 508.5,648.4 509.5,648.4 510.5,648.4 511.5,648.0 512.5,648.2 513.5,647.8 514.5,648.1 515.5,648.2 516.5,647.8 517.5,648.3 518.5,648.1 519.5,648.2 520.5,647.9 521.5,648.0 522.5,647.6 523.5,647.3 524.5,647.4 525.5,647.3 526.5,647.6 527.5,647.8 528.5,648.2 529.5,648.2 530.5,647.5 531.5,647.2 532.5,647.3 533.5,647.6 534.5,647.1 535.5,647.1 536.5,647.0 537.5,647.0 538.5,647.1 539.5,646.9 540.5,647.3 541.5,646.7 542.5,646.6 543.5,646.8 544.5,646.1 545.5,645.9 546.5,645.5 547.5,644.4 548.5,643.5 549.5,641.3 550.5,638.4 551.5,633.5 552.5,626.9 553.5,621.0 554.5,621.2 555.5,626.9 556.5,633.4 557.5,638.2 558.5,640.6 559.5,642.4 560.5,643.3 561.5,644.1 562.5,644.1 563.5,643.6 564.5,643.6 565.5,642.5 566.5,642.5 567.5,643.3 568.5,644.8 569.5,645.4 570.5,646.0 571.5,646.4 572.5,647.0 573.5,647.1 574.5,647.4 575.5,647.1 576.5,647.3 577.5,647.3 578.5,647.3 579.5,647.3 580.5,647.3 581.5,647.2 582.5,646.9 583.5,647.5 584.5,646.8 585.5,647.6 586.5,647.2 587.5,647.4 588.5,647.2 589.5,647.1 590.5,647.1 591.5,647.0 592.5,646.7 593.5,647.1 594.5,646.5 595.5,646.7 596.5,646.6 597.5,646.9 598.5,646.4 599.5,646.2 600.5,646.1 601.5,646.3 602.5,645.9 603.5,645.6 604.5,645.8 605.5,645.2 606.5,644.7 607.5,644.3 608.5,644.2 609.5,644.3 610.5,643.7 611.5,643.7 612.5,643.5 613.5,642.3 614.5,641.8 615.5,641.1 616.5,639.7 617.5,638.4 618.5,636.6 619.5,633.5 620.5,630.0 621.5,624.8 622.5,617.6 623.5,608.6 624.5,598.2 625.5,588.2 626.5,583.7 627.5,594.3 628.5,604.9 629.5,608.1 630.5,606.8 631.5,602.9 632.5,599.5 633.5,602.3 634.5,613.6 635.5,624.6 636.5,630.7 637.5,633.4 638.5,633.6 639.5,630.4 640.5,626.1 641.5,625.8 642.5,627.1 643.5,629.9 644.5,632.6 645.5,634.0 646.5,634.7 647.5,634.3 648.5,631.2 649.5,625.8 650.5,618.5 651.5,618.6 652.5,627.5 653.5,634.1 654.5,638.2 655.5,640.8 656.5,642.2 657.5,642.9 658.5,643.5 659.5,643.9 660.5,643.4 661.5,643.9 662.5,644.8 663.5,645.5 664.5,646.3 665.5,646.2 666.5,646.4 667.5,646.8 668.5,647.2 669.5,647.4 670.5,647.7 671.5,647.6 672.5,647.8 673.5,647.7 674.5,647.5 675.5,647.5 676.5,647.5 677.5,647.1 678.5,647.5 679.5,647.7 680.5,647.6 681.5,648.2 682.5,648.3 683.5,647.9 684.5,647.5 685.5,647.7 686.5,647.6 687.5,648.2 688.5,647.7 689.5,647.9 690.5,647.9 691.5,648.4 692.5,648.2 693.5,648.5 694.5,648.1 695.5,648.4 696.5,648.1 697.5,648.3 698.5,648.5 699.5,648.0 700.5,648.4 701.5,648.6 702.5,648.3 703.5,648.3 704.5,647.9 705.5,648.2 706.5,647.7 707.5,648.1 708.5,648.0 709.5,647.3 710.5,647.3 711.5,647.6 712.5,647.4 713.5,647.1 714.5,646.9 715.5,646.9 716.5,646.8 717.5,646.7 718.5,646.9 719.5,647.4 720.5,646.9 721.5,646.9 722.5,646.8 723.5,646.7 724.5,646.6 725.5,645.7 726.5,645.1 727.5,644.1 728.5,643.0 729.5,642.8 730.5,644.0 731.5,645.4 732.5,646.2 733.5,646.7 734.5,647.7 735.5,647.8 736.5,648.1 737.5,647.8 738.5,648.5 739.5,648.3 740.5,648.2 741.5,648.2 742.5,647.9 743.5,648.3 744.5,648.4 745.5,648.2 746.5,648.4 747.5,648.6 748.5,648.5 749.5,647.9 750.5,648.1 751.5,647.7 752.5,648.0 753.5,648.1 754.5,648.3 755.5,648.1 756.5,648.7 757.5,648.7 758.5,648.7 759.5,648.8 760.5,648.5 761.5,648.5 762.5,648.2 763.5,647.9 764.5,647.6 765.5,647.4 766.5,647.6 767.5,647.3 768.5,648.1 769.5,647.9 770.5,648.0 771.5,647.7 772.5,648.1 773.5,648.3 774.5,648.4 775.5,648.7 776.5,648.6 777.5,648.7 778.5,648.9 779.5,648.5 780.5,648.3 781.5,648.6 782.5,648.2 783.5,648.3 784.5,648.1 785.5,647.7 786.5,647.4 787.5,647.3 788.5,646.8 789.5,647.2 790.5,646.9 791.5,646.7 792.5,645.8 793.5,645.2 794.5,645.0 795.5,645.5 796.5,646.5 797.5,646.8 798.5,647.3 799.5,647.7 800.5,648.0 801.5,647.7 802.5,647.7 803.5,647.6 804.5,647.9 805.5,648.1 806.5,648.1 807.5,648.1 808.5,648.1 809.5,648.6 810.5,648.2 811.5,648.4 812.5,648.2 813.5,648.2 814.5,648.0 815.5,647.7 816.5,647.5 817.5,647.9 818.5,647.7 819.5,647.9 820.5,647.9 821.5,648.2 822.5,648.1 823.5,647.9 824.5,648.1 825.5,647.5 826.5,647.5 827.5,647.9 828.5,647.9 829.5,648.2 830.5,648.2 831.5,648.2 832.5,648.0 833.5,648.3 834.5,648.0 835.5,648.2 836.5,647.9 837.5,647.9 838.5,648.0 839.5,648.0 840.5,648.0 841.5,647.9 842.5,647.6 843.5,647.4 844.5,647.7 845.5,648.2 846.5,648.3 847.5,647.9 848.5,647.9 849.5,647.9 850.5,647.8 851.5,648.3 852.5,648.2 853.5,648.2 854.5,648.7 855.5,648.4 856.5,648.2 857.5,648.5 858.5,648.4 859.5,648.3 860.5,648.1 861.5,648.1 862.5,648.0 863.5,648.2 864.5,648.3 865.5,648.2 866.5,648.3 867.5,648.2 868.5,647.7 869.5,647.7 870.5,647.3 871.5,648.0 872.5,647.7 873.5,647.3 874.5,647.7 875.5,647.3 876.5,647.1 877.5,647.9 878.5,648.3 879.5,648.2 880.5,648.0 881.5,647.7 882.5,648.0 883.5,647.6 884.5,648.2 885.5,648.4 886.5,648.6 887.5,648.4 888.5,648.0 889.5,648.1 890.5,647.6 891.5,647.7 892.5,648.1 893.5,648.5 894.5,648.3 895.5,648.2 896.5,648.6 897.5,648.5 898.5,648.1 899.5,648.2 900.5,647.9 901.5,647.7 902.5,648.1 903.5,648.0 904.5,648.0 905.5,647.6 906.5,648.0 907.5,648.1 908.5,648.1 909.5,647.6 910.5,647.9 911.5,647.8 912.5,647.6 913.5,647.9 914.5,647.7 915.5,647.9 916.5,647.7 917.5,647.9 918.5,647.8 919.5,648.0 920.5,647.6 921.5,648.0 922.5,648.1 923.5,647.8 924.5,647.7 925.5,647.9 926.5,648.1 927.5,647.9 928.5,647.9 929.5,648.3 930.5,648.1 931.5,648.0 932.5,648.4 933.5,648.3 934.5,648.7 935.5,648.3 936.5,648.5 937.5,648.4 938.5,648.3 939.5,648.4 940.5,648.7 941.5,648.8 942.5,648.5 943.5,648.3 944.5,648.5 945.5,648.6 946.5,648.8 947.5,648.8 948.5,648.6 949.5,648.7 950.5,649.1 951.5,648.6 952.5,648.6 953.5,648.9 954.5,648.4 955.5,648.6 956.5,648.9 957.5,648.7 958.5,649.0 959.5,649.1 960.5,648.9 961.5,648.8 962.5,648.9 963.5,649.1 964.5,648.7 965.5,648.8 966.5,648.6 967.5,648.3 968.5,647.8 969.5,648.2 970.5,648.3 971.5,648.1 972.5,648.3 973.5,648.0 974.5,647.9 975.5,647.5 976.5,647.4 977.5,648.0 978.5,647.7 979.5,647.8 980.5,647.6 981.5,647.8 982.5,647.8 983.5,647.5 984.5,647.8 985.5,648.0 986.5,648.2 987.5,648.7 988.5,648.2 989.5,648.7 990.5,648.9 991.5,648.2 992.5,648.5 993.5,648.4 994.5,648.9 995.5,648.4 996.5,648.5 997.5,648.4 998.5,648.7 999.5,648.7 1000.5,648.3 1001.5,647.9 1002.5,648.5 1003.5,648.5 1004.5,648.5 1005.5,648.2 1006.5,647.9 1007.5,647.8 1008.5,648.1 1009.5,647.9 1010.5,647.9 1011.5,648.3 1012.5,647.8 1013.5,648.4 1014.5,648.3 1015.5,648.1 1016.5,648.3 1017.5,647.9 1018.5,648.3 1019.5,647.9 1020.5,647.8 1021.5,647.6 1022.5,648.2 1023.5,648.2 1024.5,648.1 1025.5,648.1 1026.5,648.3 1027.5,648.6 1028.5,649.1 1029.5,649.3 1030.5,648.6 1031.5,649.0 1032.5,648.6 1033.5,648.6 1034.5,648.2 1035.5,648.3 1036.5,648.1 1037.5,648.5 1038.5,648.9 1039.5,648.5 1040.5,647.8 1041.5,648.3 1042.5,648.3 1043.5,648.4 1044.5,648.1 1045.5,647.7 1046.5,648.5 1047.5,648.2 1048.5,648.2 1049.5,647.9 1050.5,648.6 1051.5,648.0 1052.5,648.0 1053.5,647.8 1054.5,647.8 1055.5,647.9 1056.5,648.0 1057.5,648.4 1058.5,648.8 1059.5,648.6 1060.5,648.9 1061.5,648.4 1062.5,648.0 1063.5,648.3 1064.5,647.9 1065.5,647.9 1066.5,647.8 1067.5,648.2 1068.5,648.0 1069.5,648.4 1070.5,648.6 1071.5,648.6 1072.5,648.5 1073.5,648.3 1074.5,648.1 1075.5,648.1 1076.5,648.0 1077.5,648.5 1078.5,648.4 1079.5,648.3 1080.5,648.0 1081.5,648.3 1082.5,648.6 1083.5,649.0 1084.5,648.6 1085.5,648.5 1086.5,648.8 1087.5,648.6 1088.5,648.5 1089.5,648.4 1090.5,648.2 1091.5,648.3 1092.5,647.9 1093.5,648.4 1094.5,648.4 1095.5,648.3 1096.5,648.1 1097.5,648.1 1098.5,647.9 1099.5,648.2 1100.5,648.3 1101.5,648.6 1102.5,648.5 1103.5,648.4 1104.5,648.6 1105.5,648.5 1106.5,648.6 1107.5,648.3 1108.5,648.5 1109.5,648.0 1110.5,648.2 1111.5,648.2 1112.5,648.3 1113.5,648.4 1114.5,648.4 1115.5,648.4 1116.5,648.8 1117.5,648.6 1118.5,648.9 1119.5,649.0 1120.5,649.2 1121.5,649.2 1122.5,648.9 1123.5,648.8 1124.5,649.0 1125.5,649.0 1126.5,648.8 1127.5,648.4 1128.5,648.6 1129.5,648.3 1130.5,648.5 1131.5,648.3 1132.5,648.5 1133.5,648.3 1134.5,648.6 1135.5,648.1 1136.5,648.1 1137.5,647.9 1138.5,647.8 1139.5,647.6 1140.5,647.6 1141.5,647.8 1142.5,648.1 1143.5,648.2 1144.5,648.1 1145.5,648.2 1146.5,648.0 1147.5,648.5 1148.5,648.7 1149.5,648.2 1150.5,648.6 1151.5,648.2 1152.5,648.3 1153.5,647.9 1154.5,648.5 1155.5,647.7 1156.5,647.9 1157.5,647.9 1158.5,647.5 1159.5,647.0 1160.5,647.0 1161.5,646.9 1162.5,647.0 1163.5,646.5 1164.5,646.3 1165.5,645.6 1166.5,645.2 1167.5,643.9 1168.5,642.4 1169.5,640.7 1170.5,639.1 1171.5,636.8 1172.5,635.2 1173.5,635.2 1174.5,636.7 1175.5,638.9 1176.5,641.5 1177.5,643.0 1178.5,644.5 1179.5,645.6 1180.5,646.1 1181.5,646.7 1182.5,647.4 1183.5,647.2 1184.5,647.3 1185.5,647.5 1186.5,647.2 1187.5,647.8 1188.5,647.9 1189.5,648.2 1190.5,648.1 1191.5,648.3 1192.5,648.2 1193.5,648.1 1194.5,648.2 1195.5,648.6 1196.5,648.4 1197.5,648.2 1198.5,648.5 1199.5,648.0 1200.5,647.9 1201.5,647.9 1202.5,647.5 1203.5,647.6 1204.5,648.2 1205.5,648.5 1206.5,648.4 1207.5,648.3 1208.5,648.5 1209.5,648.3 1210.5,648.1 1211.5,648.1 1212.5,648.1 1213.5,648.0 1214.5,648.0 1215.5,648.4 1216.5,648.0 1217.5,647.9 1218.5,647.7 1219.5,648.2 1220.5,648.2 1221.5,647.9 1222.5,647.5 1223.5,647.4 1224.5,647.0 1225.5,647.3 1226.5,647.2 1227.5,647.7 1228.5,647.7 1229.5,647.9 1230.5,648.1 1231.5,648.2 1232.5,648.2 1233.5,648.4 1234.5,648.0 1235.5,647.8 1236.5,647.7 1237.5,647.9 1238.5,647.3 1239.5,647.7 1240.5,647.8 1241.5,647.9 1242.5,648.2 1243.5,648.6 1244.5,648.9 1245.5,648.4 1246.5,648.4 1247.5,648.5 1248.5,648.6 1249.5,648.3 1250.5,648.7 1251.5,648.6 1252.5,648.9 1253.5,648.4 1254.5,648.5 1255.5,648.7 1256.5,648.0 1257.5,648.3 1258.5,648.2 1259.5,648.6 1260.5,648.5 1261.5,648.5 1262.5,648.4 1263.5,648.6 1264.5,648.4 1265.5,648.8 1266.5,648.7 1267.5,648.5 1268.5,648.7 1269.5,648.7 1270.5,648.9 1271.5,648.9 1272.5,649.1 1273.5,648.9 1274.5,648.6 1275.5,648.9 1276.5,649.2 1277.5,648.8 1278.5,648.6 1279.5,648.9 1280.5,648.6 1281.5,648.9 1282.5,648.7 1283.5,648.6 1284.5,648.5 1285.5,648.1 1286.5,647.9 1287.5,648.6 1288.5,648.2 1289.5,648.8 1290.5,648.3 1291.5,648.2 1292.5,648.1 1293.5,647.7 1294.5,647.9 1295.5,648.6 1296.5,648.3 1297.5,648.5 1298.5,648.8 1299.5,649.0 1300.5,649.0 1301.5,648.5 1302.5,648.8 1303.5,648.1 1304.5,648.1 1305.5,648.2 1306.5,647.8 1307.5,648.1 1308.5,648.1 1309.5,648.0 1310.5,647.8 1311.5,648.5 1312.5,647.9 1313.5,648.3 1314.5,648.6 1315.5,648.4 1316.5,647.8 1317.5,648.4 1318.5,648.0 1319.5,648.2 1320.5,648.5 1321.5,648.2 1322.5,648.6 1323.5,648.0 1324.5,648.0 1325.5,648.5 1326.5,648.6 1327.5,648.8 1328.5,648.1 1329.5,648.6 1330.5,648.9 1331.5,648.9 1332.5,648.9 1333.5,648.5 1334.5,648.9 1335.5,648.5 1336.5,648.8 1337.5,648.7 1338.5,648.8 1339.5,648.8 1340.5,649.0 1341.5,649.0 1342.5,648.6 1343.5,648.3 1344.5,648.6 1345.5,649.0 1346.5,648.5 1347.5,648.5 1348.5,648.5 1349.5,648.4 1350.5,648.8" fill="none" stroke="#FF0000" stroke-width="5.0" stroke-linejoin="round" stroke-linecap="butt"/>
<path d="M136.5,756.8 137.5,756.5 138.5,756.3 139.5,756.4 140.5,756.3 141.5,756.2 142.5,756.2 143.5,756.4 144.5,756.1 145.5,756.2 146.5,756.6 147.5,756.6 148.5,756.5 149.5,756.5 150.5,756.0 151.5,756.2 152.5,756.6 153.5,756.4 154.5,756.4 155.5,756.4 156.5,756.5 157.5,756.8 158.5,756.1 159.5,756.1 160.5,756.0 161.5,756.4 162.5,756.1 163.5,755.7 164.5,755.6 165.5,755.7 166.5,755.4 167.5,755.6 168.5,755.9 169.5,755.6 170.5,755.5 171.5,755.5 172.5,754.9 173.5,755.0 174.5,755.2 175.5,755.8 176.5,755.8 177.5,755.5 178.5,755.4 179.5,755.3 180.5,754.8 181.5,754.9 182.5,754.9 183.5,754.1 184.5,754.0 185.5,753.6 186.5,753.7 187.5,753.2 188.5,753.3 189.5,752.9 190.5,752.5 191.5,752.2 192.5,752.1 193.5,752.1 194.5,751.7 195.5,751.2 196.5,750.6 197.5,750.4 198.5,749.0 199.5,748.1 200.5,747.2 201.5,745.8 202.5,744.6 203.5,742.9 204.5,741.3 205.5,738.9 206.5,736.6 207.5,733.2 208.5,728.8 209.5,723.7 210.5,717.4 211.5,709.9 212.5,700.7 213.5,690.1 214.5,678.7 215.5,667.7 216.5,659.7 217.5,657.8 218.5,657.2 219.5,660.2 220.5,711.4 221.5,731.0 222.5,731.1 223.5,714.1 224.5,690.0 225.5,716.4 226.5,737.2 227.5,745.5 228.5,749.3 229.5,750.8 230.5,751.5 231.5,751.5 232.5,750.6 233.5,749.8 234.5,749.4 235.5,747.9 236.5,744.8 237.5,741.1 238.5,735.8 239.5,728.2 240.5,720.6 241.5,716.9 242.5,716.6 243.5,716.6 244.5,716.5 245.5,717.4 246.5,723.0 247.5,730.0 248.5,736.4 249.5,741.6 250.5,744.8 251.5,747.4 252.5,749.5 253.5,750.7 254.5,752.0 255.5,752.8 256.5,753.8 257.5,753.9 258.5,753.9 259.5,754.3 260.5,754.4 261.5,754.2 262.5,754.3 263.5,754.7 264.5,755.3 265.5,755.1 266.5,755.7 267.5,755.5 268.5,755.1 269.5,755.6 270.5,756.3 271.5,756.4 272.5,756.4 273.5,756.3 274.5,756.8 275.5,756.7 276.5,756.7 277.5,757.1 278.5,757.4 279.5,757.4 280.5,757.0 281.5,756.5 282.5,756.5 283.5,756.2 284.5,756.4 285.5,756.5 286.5,756.2 287.5,755.9 288.5,756.3 289.5,756.4 290.5,756.3 291.5,756.4 292.5,756.2 293.5,756.3 294.5,756.2 295.5,756.3 296.5,756.0 297.5,756.3 298.5,756.8 299.5,756.5 300.5,756.7 301.5,757.0 302.5,757.2 303.5,757.1 304.5,757.0 305.5,757.6 306.5,757.4 307.5,757.0 308.5,757.2 309.5,756.6 310.5,756.5 311.5,756.9 312.5,756.8 313.5,756.7 314.5,757.3 315.5,757.3 316.5,757.1 317.5,756.9 318.5,757.4 319.5,757.3 320.5,757.3 321.5,756.6 322.5,756.5 323.5,756.4 324.5,756.4 325.5,756.8 326.5,756.6 327.5,756.3 328.5,756.2 329.5,756.7 330.5,756.1 331.5,756.5 332.5,756.4 333.5,756.2 334.5,756.3 335.5,756.2 336.5,756.5 337.5,756.5 338.5,756.3 339.5,756.0 340.5,755.5 341.5,755.6 342.5,755.4 343.5,755.2 344.5,755.1 345.5,754.7 346.5,754.4 347.5,754.0 348.5,753.9 349.5,753.6 350.5,754.0 351.5,753.3 352.5,752.1 353.5,751.7 354.5,750.7 355.5,748.4 356.5,745.5 357.5,741.3 358.5,734.0 359.5,722.0 360.5,706.7 361.5,696.0 362.5,715.8 363.5,737.0 364.5,745.5 365.5,749.3 366.5,750.9 367.5,752.3 368.5,752.8 369.5,753.2 370.5,752.9 371.5,752.2 372.5,751.7 373.5,750.4 374.5,749.1 375.5,747.0 376.5,744.0 377.5,739.0 378.5,730.9 379.5,720.0 380.5,709.8 381.5,712.5 382.5,732.3 383.5,743.8 384.5,749.5 385.5,752.2 386.5,753.7 387.5,754.4 388.5,754.6 389.5,754.9 390.5,755.0 391.5,754.9 392.5,755.0 393.5,755.2 394.5,755.5 395.5,755.3 396.5,755.4 397.5,755.1 398.5,754.1 399.5,753.7 400.5,752.2 401.5,750.4 402.5,747.5 403.5,745.7 404.5,746.5 405.5,749.1 406.5,751.4 407.5,752.7 408.5,753.4 409.5,754.1 410.5,754.8 411.5,755.0 412.5,755.2 413.5,755.1 414.5,755.4 415.5,755.3 416.5,755.5 417.5,755.5 418.5,755.3 419.5,754.9 420.5,754.3 421.5,753.2 422.5,752.1 423.5,751.0 424.5,751.6 425.5,752.8 426.5,753.8 427.5,754.2 428.5,754.3 429.5,754.0 430.5,753.8 431.5,753.1 432.5,751.5 433.5,750.4 434.5,750.3 435.5,751.8 436.5,753.5 437.5,755.0 438.5,755.3 439.5,755.9 440.5,755.7 441.5,756.0 442.5,756.3 443.5,756.4 444.5,756.7 445.5,757.2 446.5,757.0 447.5,757.0 448.5,756.8 449.5,756.8 450.5,756.3 451.5,756.5 452.5,756.2 453.5,756.6 454.5,756.8 455.5,756.5 456.5,756.8 457.5,756.5 458.5,756.9 459.5,756.8 460.5,756.9 461.5,756.7 462.5,756.8 463.5,756.7 464.5,756.7 465.5,756.7 466.5,756.7 467.5,756.5 468.5,756.4 469.5,756.4 470.5,756.3 471.5,756.6 472.5,756.8 473.5,756.7 474.5,756.6 475.5,756.3 476.5,756.3 477.5,756.0 478.5,755.3 479.5,755.0 480.5,754.4 481.5,754.0 482.5,753.3 483.5,753.3 484.5,754.0 485.5,755.0 486.5,755.4 487.5,755.5 488.5,755.6 489.5,755.9 490.5,756.0 491.5,756.4 492.5,756.4 493.5,756.3 494.5,756.2 495.5,756.4 496.5,756.4 497.5,756.5 498.5,756.4 499.5,756.4 500.5,756.1 501.5,756.2 502.5,756.8 503.5,756.3 504.5,756.1 505.5,756.5 506.5,756.5 507.5,756.6 508.5,756.7 509.5,757.0 510.5,757.3 511.5,757.3 512.5,757.3 513.5,757.3 514.5,756.6 515.5,756.4 516.5,756.9 517.5,756.7 518.5,756.7 519.5,757.2 520.5,757.0 521.5,756.6 522.5,756.4 523.5,756.5 524.5,756.0 525.5,756.4 526.5,756.3 527.5,755.8 528.5,755.9 529.5,756.0 530.5,755.8 531.5,756.0 532.5,756.2 533.5,756.1 534.5,755.9 535.5,755.7 536.5,755.4 537.5,755.4 538.5,755.3 539.5,755.3 540.5,755.0 541.5,755.1 542.5,754.6 543.5,754.3 544.5,754.1 545.5,753.7 546.5,753.2 547.5,751.9 548.5,750.4 549.5,748.6 550.5,744.6 551.5,739.6 552.5,731.5 553.5,724.0 554.5,724.5 555.5,734.6 556.5,742.5 557.5,747.4 558.5,750.1 559.5,751.8 560.5,752.9 561.5,753.0 562.5,753.4 563.5,753.4 564.5,752.7 565.5,752.0 566.5,750.7 567.5,750.6 568.5,751.6 569.5,752.9 570.5,753.4 571.5,754.2 572.5,754.5 573.5,755.3 574.5,756.1 575.5,755.6 576.5,755.8 577.5,755.9 578.5,756.1 579.5,755.9 580.5,756.4 581.5,756.7 582.5,756.9 583.5,756.5 584.5,756.9 585.5,756.9 586.5,757.0 587.5,757.3 588.5,757.3 589.5,757.0 590.5,757.3 591.5,756.8 592.5,756.3 593.5,756.7 594.5,756.5 595.5,756.1 596.5,756.0 597.5,756.1 598.5,756.4 599.5,756.2 600.5,756.3 601.5,756.2 602.5,755.7 603.5,756.2 604.5,755.8 605.5,755.7 606.5,755.8 607.5,755.2 608.5,755.2 609.5,754.7 610.5,755.3 611.5,754.6 612.5,754.6 613.5,754.6 614.5,754.2 615.5,753.3 616.5,753.0 617.5,752.5 618.5,752.0 619.5,750.9 620.5,749.3 621.5,746.6 622.5,743.2 623.5,738.6 624.5,732.4 625.5,729.6 626.5,722.2 627.5,705.8 628.5,687.1 629.5,684.1 630.5,698.5 631.5,707.2 632.5,706.9 633.5,701.9 634.5,698.1 635.5,713.3 636.0,716.0 637.0,745.0 638.0,746.0 639.0,714.0 640.0,715.0 641.0,745.0 642.0,744.0 643.0,716.0 644.0,716.5 645.0,745.0 646.0,744.0 647.0,718.0 648.0,719.0 649.0,744.0 650.0,743.0 651.0,719.5 652.0,720.0 653.0,744.0 653.5,735.0 654.5,748.0 655.5,756.8 656.5,757.0 657.5,756.9 658.5,757.1 659.5,756.8 660.5,757.1 661.5,756.5 662.5,756.5 663.5,756.6 664.5,756.7 665.5,756.4 666.5,756.6 667.5,756.8 668.5,756.7 669.5,756.8 670.5,756.5 671.5,756.6 672.5,756.6 673.5,757.1 674.5,756.6 675.5,756.6 676.5,757.0 677.5,756.8 678.5,756.4 679.5,756.8 680.5,757.1 681.5,757.0 682.5,756.4 683.5,756.8 684.5,756.5 685.5,756.6 686.5,756.5 687.5,756.9 688.5,756.8 689.5,756.8 690.5,756.7 691.5,756.8 692.5,756.1 693.5,756.6 694.5,756.4 695.5,756.9 696.5,756.8 697.5,757.5 698.5,757.1 699.5,756.4 700.5,756.9 701.5,756.6 702.5,756.9 703.5,757.2 704.5,757.2 705.5,757.3 706.5,757.4 707.5,757.5 708.5,757.2 709.5,757.2 710.5,757.2 711.5,756.7 712.5,756.6 713.5,756.6 714.5,756.5 715.5,756.6 716.5,756.6 717.5,756.5 718.5,756.2 719.5,755.8 720.5,755.8 721.5,755.2 722.5,755.0 723.5,754.5 724.5,754.0 725.5,752.9 726.5,750.7 727.5,748.0 728.5,746.2 729.5,746.0 730.5,747.6 731.5,750.3 732.5,752.5 733.5,753.9 734.5,755.1 735.5,755.2 736.5,756.0 737.5,756.1 738.5,756.6 739.5,756.1 740.5,756.0 741.5,756.5 742.5,756.4 743.5,756.7 744.5,756.5 745.5,756.6 746.5,756.9 747.5,756.5 748.5,756.3 749.5,756.0 750.5,756.3 751.5,756.1 752.5,756.1 753.5,756.2 754.5,755.8 755.5,756.3 756.5,756.0 757.5,756.4 758.5,756.4 759.5,756.9 760.5,756.9 761.5,756.9 762.5,756.8 763.5,757.3 764.5,757.2 765.5,757.3 766.5,757.0 767.5,757.1 768.5,756.7 769.5,756.3 770.5,756.7 771.5,756.6 772.5,756.6 773.5,756.3 774.5,756.6 775.5,756.5 776.5,756.6 777.5,757.2 778.5,757.2 779.5,757.1 780.5,757.2 781.5,757.0 782.5,757.0 783.5,757.1 784.5,757.1 785.5,756.5 786.5,756.5 787.5,755.7 788.5,755.6 789.5,755.9 790.5,755.1 791.5,754.7 792.5,754.7 793.5,753.1 794.5,752.6 795.5,751.1 796.5,751.7 797.5,752.7 798.5,753.6 799.5,754.7 800.5,755.0 801.5,755.6 802.5,755.8 803.5,755.6 804.5,755.9 805.5,756.2 806.5,756.3 807.5,756.1 808.5,756.2 809.5,756.2 810.5,756.0 811.5,756.4 812.5,756.7 813.5,756.7 814.5,756.2 815.5,756.4 816.5,756.4 817.5,756.1 818.5,756.2 819.5,756.7 820.5,756.6 821.5,756.8 822.5,756.9 823.5,756.6 824.5,757.0 825.5,756.7 826.5,756.9 827.5,757.0 828.5,757.1 829.5,756.6 830.5,756.8 831.5,756.5 832.5,756.6 833.5,756.0 834.5,756.2 835.5,756.4 836.5,756.7 837.5,756.2 838.5,756.4 839.5,756.2 840.5,756.8 841.5,756.4 842.5,756.9 843.5,757.0 844.5,757.0 845.5,757.1 846.5,756.9 847.5,756.8 848.5,756.4 849.5,756.3 850.5,756.5 851.5,756.7 852.5,756.4 853.5,756.8 854.5,757.2 855.5,757.1 856.5,757.1 857.5,756.7 858.5,756.4 859.5,756.4 860.5,756.7 861.5,757.2 862.5,756.7 863.5,757.1 864.5,757.3 865.5,756.9 866.5,757.1 867.5,756.9 868.5,756.8 869.5,756.8 870.5,756.7 871.5,756.9 872.5,757.3 873.5,757.0 874.5,756.9 875.5,757.0 876.5,756.9 877.5,757.2 878.5,757.0 879.5,757.0 880.5,757.2 881.5,756.9 882.5,756.7 883.5,756.8 884.5,756.6 885.5,756.7 886.5,756.6 887.5,756.6 888.5,756.9 889.5,757.1 890.5,757.3 891.5,757.3 892.5,757.3 893.5,757.2 894.5,756.6 895.5,756.8 896.5,757.4 897.5,757.2 898.5,757.6 899.5,757.0 900.5,757.0 901.5,756.7 902.5,757.0 903.5,757.3 904.5,757.0 905.5,757.0 906.5,756.6 907.5,756.7 908.5,756.8 909.5,756.9 910.5,757.1 911.5,757.5 912.5,757.0 913.5,757.2 914.5,757.0 915.5,756.9 916.5,757.2 917.5,757.3 918.5,757.2 919.5,757.1 920.5,756.9 921.5,757.1 922.5,756.5 923.5,757.2 924.5,757.3 925.5,756.9 926.5,756.8 927.5,756.9 928.5,756.9 929.5,757.4 930.5,757.4 931.5,757.3 932.5,756.9 933.5,757.1 934.5,756.9 935.5,756.5 936.5,757.1 937.5,757.3 938.5,757.1 939.5,756.7 940.5,756.9 941.5,756.8 942.5,757.4 943.5,756.7 944.5,756.8 945.5,757.1 946.5,757.1 947.5,757.3 948.5,757.1 949.5,757.0 950.5,757.1 951.5,757.1 952.5,757.1 953.5,756.9 954.5,757.3 955.5,757.7 956.5,757.7 957.5,757.4 958.5,757.6 959.5,757.4 960.5,757.2 961.5,757.2 962.5,756.7 963.5,756.8 964.5,756.8 965.5,757.1 966.5,757.2 967.5,756.8 968.5,756.6 969.5,756.7 970.5,756.1 971.5,756.1 972.5,756.4 973.5,756.3 974.5,756.6 975.5,757.1 976.5,756.8 977.5,756.5 978.5,756.6 979.5,756.6 980.5,756.2 981.5,756.0 982.5,756.4 983.5,756.2 984.5,756.3 985.5,756.5 986.5,756.6 987.5,757.1 988.5,756.9 989.5,756.6 990.5,756.3 991.5,756.7 992.5,756.6 993.5,756.9 994.5,757.4 995.5,757.1 996.5,757.3 997.5,757.1 998.5,757.0 999.5,757.0 1000.5,756.6 1001.5,756.8 1002.5,756.8 1003.5,757.1 1004.5,756.7 1005.5,757.2 1006.5,757.4 1007.5,756.9 1008.5,756.9 1009.5,756.6 1010.5,756.7 1011.5,756.9 1012.5,756.9 1013.5,757.3 1014.5,757.0 1015.5,756.7 1016.5,756.5 1017.5,756.5 1018.5,756.6 1019.5,756.9 1020.5,757.2 1021.5,757.1 1022.5,756.9 1023.5,757.1 1024.5,756.5 1025.5,756.6 1026.5,756.1 1027.5,756.9 1028.5,756.8 1029.5,756.7 1030.5,756.5 1031.5,756.6 1032.5,757.0 1033.5,757.0 1034.5,757.2 1035.5,757.6 1036.5,756.9 1037.5,757.4 1038.5,756.8 1039.5,757.2 1040.5,756.7 1041.5,756.6 1042.5,756.9 1043.5,756.7 1044.5,756.7 1045.5,756.3 1046.5,756.6 1047.5,756.6 1048.5,755.9 1049.5,756.2 1050.5,755.8 1051.5,756.2 1052.5,756.5 1053.5,756.8 1054.5,757.1 1055.5,756.8 1056.5,756.9 1057.5,756.9 1058.5,756.9 1059.5,756.6 1060.5,756.5 1061.5,757.1 1062.5,757.4 1063.5,757.2 1064.5,757.4 1065.5,757.4 1066.5,757.2 1067.5,756.7 1068.5,756.6 1069.5,756.5 1070.5,756.8 1071.5,756.8 1072.5,756.8 1073.5,757.1 1074.5,757.0 1075.5,756.8 1076.5,757.1 1077.5,757.1 1078.5,757.1 1079.5,756.9 1080.5,756.8 1081.5,757.2 1082.5,756.7 1083.5,757.2 1084.5,757.5 1085.5,757.1 1086.5,757.1 1087.5,756.6 1088.5,756.8 1089.5,756.5 1090.5,756.8 1091.5,756.9 1092.5,756.9 1093.5,757.0 1094.5,756.9 1095.5,756.7 1096.5,756.9 1097.5,757.1 1098.5,757.2 1099.5,757.1 1100.5,757.3 1101.5,756.6 1102.5,756.8 1103.5,757.0 1104.5,756.8 1105.5,756.8 1106.5,756.7 1107.5,756.7 1108.5,756.5 1109.5,756.3 1110.5,756.8 1111.5,757.1 1112.5,757.2 1113.5,756.9 1114.5,756.7 1115.5,757.0 1116.5,757.0 1117.5,757.0 1118.5,757.1 1119.5,756.8 1120.5,757.0 1121.5,757.0 1122.5,756.7 1123.5,757.3 1124.5,757.4 1125.5,757.6 1126.5,757.3 1127.5,757.8 1128.5,757.1 1129.5,757.2 1130.5,756.6 1131.5,756.9 1132.5,757.1 1133.5,756.8 1134.5,756.5 1135.5,757.1 1136.5,757.2 1137.5,757.3 1138.5,757.6 1139.5,757.8 1140.5,757.5 1141.5,757.1 1142.5,757.4 1143.5,756.8 1144.5,757.3 1145.5,757.2 1146.5,756.8 1147.5,756.6 1148.5,756.4 1149.5,756.7 1150.5,756.2 1151.5,756.3 1152.5,756.5 1153.5,756.3 1154.5,756.6 1155.5,756.7 1156.5,756.3 1157.5,756.1 1158.5,756.1 1159.5,756.2 1160.5,755.8 1161.5,755.6 1162.5,755.1 1163.5,755.2 1164.5,755.5 1165.5,755.2 1166.5,755.4 1167.5,755.5 1168.5,755.2 1169.5,754.8 1170.5,754.4 1171.5,753.0 1172.5,752.2 1173.5,750.8 1174.5,749.0 1175.5,747.4 1176.5,744.9 1177.5,743.2 1178.5,743.1 1179.5,744.3 1180.5,747.0 1181.5,749.0 1182.5,750.3 1183.5,752.1 1184.5,752.8 1185.5,754.0 1186.5,754.7 1187.5,754.8 1188.5,754.8 1189.5,754.9 1190.5,755.5 1191.5,755.9 1192.5,756.1 1193.5,756.3 1194.5,756.3 1195.5,756.3 1196.5,756.2 1197.5,756.7 1198.5,756.4 1199.5,756.3 1200.5,756.5 1201.5,756.7 1202.5,756.8 1203.5,756.6 1204.5,756.5 1205.5,756.6 1206.5,756.4 1207.5,756.3 1208.5,756.6 1209.5,756.4 1210.5,756.4 1211.5,756.5 1212.5,756.6 1213.5,756.6 1214.5,756.7 1215.5,756.4 1216.5,756.8 1217.5,756.4 1218.5,756.7 1219.5,756.7 1220.5,756.8 1221.5,756.8 1222.5,757.0 1223.5,756.8 1224.5,757.1 1225.5,756.5 1226.5,756.2 1227.5,755.4 1228.5,754.7 1229.5,753.7 1230.5,753.8 1231.5,754.6 1232.5,755.7 1233.5,756.1 1234.5,756.1 1235.5,757.0 1236.5,757.0 1237.5,757.3 1238.5,757.2 1239.5,757.1 1240.5,757.3 1241.5,757.6 1242.5,757.3 1243.5,757.7 1244.5,758.0 1245.5,758.2 1246.5,758.4 1247.5,758.1 1248.5,758.3 1249.5,757.6 1250.5,757.4 1251.5,757.5 1252.5,757.5 1253.5,757.2 1254.5,757.0 1255.5,756.9 1256.5,757.3 1257.5,757.6 1258.5,757.1 1259.5,757.5 1260.5,757.1 1261.5,757.2 1262.5,757.4 1263.5,757.4 1264.5,757.4 1265.5,757.6 1266.5,757.8 1267.5,757.6 1268.5,757.9 1269.5,757.4 1270.5,757.4 1271.5,757.1 1272.5,757.1 1273.5,757.2 1274.5,757.5 1275.5,757.5 1276.5,756.8 1277.5,757.2 1278.5,757.2 1279.5,757.1 1280.5,757.4 1281.5,757.8 1282.5,757.5 1283.5,757.2 1284.5,756.7 1285.5,757.3 1286.5,757.3 1287.5,757.7 1288.5,757.5 1289.5,757.3 1290.5,757.6 1291.5,757.8 1292.5,757.9 1293.5,757.5 1294.5,757.1 1295.5,757.6 1296.5,757.5 1297.5,757.2 1298.5,756.7 1299.5,756.6 1300.5,756.7 1301.5,756.5 1302.5,756.4 1303.5,756.6 1304.5,757.0 1305.5,757.3 1306.5,756.8 1307.5,757.5 1308.5,757.4 1309.5,756.8 1310.5,757.3 1311.5,757.2 1312.5,757.4 1313.5,756.9 1314.5,756.5 1315.5,756.7 1316.5,756.2 1317.5,756.4 1318.5,756.5 1319.5,756.6 1320.5,757.1 1321.5,756.5 1322.5,756.6 1323.5,757.0 1324.5,757.3 1325.5,757.2 1326.5,757.0 1327.5,757.2 1328.5,757.6 1329.5,757.6 1330.5,757.2 1331.5,757.0 1332.5,756.8 1333.5,757.0 1334.5,757.0 1335.5,756.7 1336.5,756.6 1337.5,757.2 1338.5,757.4 1339.5,757.0 1340.5,756.6 1341.5,757.0 1342.5,757.0 1343.5,757.1 1344.5,757.1 1345.5,757.5 1346.5,757.5 1347.5,757.1 1348.5,757.2 1349.5,757.3 1350.5,757.1 1351.5,756.6" fill="none" stroke="#000000" stroke-width="5.4" stroke-linejoin="round" stroke-linecap="butt"/>
<path d="M138.0,864.1 139.0,864.1 140.0,864.2 141.0,864.2 142.0,864.0 143.0,863.7 144.0,864.1 145.0,863.7 146.0,864.2 147.0,864.0 148.0,864.0 149.0,864.3 150.0,864.1 151.0,864.3 152.0,864.1 153.0,864.1 154.0,864.0 155.0,863.9 156.0,864.1 157.0,864.2 158.0,864.0 159.0,864.4 160.0,864.2 161.0,864.4 162.0,864.2 163.0,864.3 164.0,864.5 165.0,864.3 166.0,864.2 167.0,864.3 168.0,864.3 169.0,864.5 170.0,864.4 171.0,864.8 172.0,864.6 173.0,864.4 174.0,864.6 175.0,864.4 176.0,864.5 177.0,864.2 178.0,863.9 179.0,864.1 180.0,863.8 181.0,864.1 182.0,863.8 183.0,864.1 184.0,864.3 185.0,864.0 186.0,864.2 187.0,864.1 188.0,864.0 189.0,864.0 190.0,864.0 191.0,863.9 192.0,864.0 193.0,864.3 194.0,864.3 195.0,864.1 196.0,864.6 197.0,864.7 198.0,864.4 199.0,864.4 200.0,863.9 201.0,863.9 202.0,863.8 203.0,863.7 204.0,863.7 205.0,863.9 206.0,863.7 207.0,863.7 208.0,863.7 209.0,864.3 210.0,864.1 211.0,863.8 212.0,863.8 213.0,864.0 214.0,864.2 215.0,863.9 216.0,863.9 217.0,864.4 218.0,864.4 219.0,864.1 220.0,864.2 221.0,864.3 222.0,864.0 223.0,864.5 224.0,864.5 225.0,864.6 226.0,864.4 227.0,864.1 228.0,864.0 229.0,864.2 230.0,864.2 231.0,864.7 232.0,864.5 233.0,864.3 234.0,864.2 235.0,864.5 236.0,864.5 237.0,864.6 238.0,864.4 239.0,864.6 240.0,864.5 241.0,864.5 242.0,864.5 243.0,864.4 244.0,864.6 245.0,864.3 246.0,864.1 247.0,864.6 248.0,864.5 249.0,864.6 250.0,864.4 251.0,864.0 252.0,864.5 253.0,864.6 254.0,864.6 255.0,864.3 256.0,864.3 257.0,864.3 258.0,864.1 259.0,864.3 260.0,864.0 261.0,864.3 262.0,864.3 263.0,864.2 264.0,863.9 265.0,864.0 266.0,864.2 267.0,863.9 268.0,864.1 269.0,864.1 270.0,864.2 271.0,864.0 272.0,863.8 273.0,864.1 274.0,864.3 275.0,864.3 276.0,864.4 277.0,864.5 278.0,864.3 279.0,864.5 280.0,864.6 281.0,864.4 282.0,864.7 283.0,864.4 284.0,864.4 285.0,864.1 286.0,864.2 287.0,864.4 288.0,864.2 289.0,864.0 290.0,864.6 291.0,864.5 292.0,864.2 293.0,864.6 294.0,864.2 295.0,864.2 296.0,864.1 297.0,864.0 298.0,864.3 299.0,864.0 300.0,864.2 301.0,864.3 302.0,864.4 303.0,863.9 304.0,864.1 305.0,863.7 306.0,864.1 307.0,864.0 308.0,864.2 309.0,864.2 310.0,863.7 311.0,864.0 312.0,864.2 313.0,864.2 314.0,864.1 315.0,864.0 316.0,863.8 317.0,864.2 318.0,863.8 319.0,863.9 320.0,863.7 321.0,863.7 322.0,863.7 323.0,863.9 324.0,863.9 325.0,863.8 326.0,863.7 327.0,864.1 328.0,864.0 329.0,864.0 330.0,864.3 331.0,864.5 332.0,864.3 333.0,864.6 334.0,864.5 335.0,864.4 336.0,864.2 337.0,864.0 338.0,864.1 339.0,863.8 340.0,864.0 341.0,864.2 342.0,863.9 343.0,864.0 344.0,863.9 345.0,864.1 346.0,864.1 347.0,864.3 348.0,864.0 349.0,863.8 350.0,863.9 351.0,863.9 352.0,863.7 353.0,863.7 354.0,863.4 355.0,863.5 356.0,863.8 357.0,864.0 358.0,864.3 359.0,864.0 360.0,864.1 361.0,864.4 362.0,864.4 363.0,864.4 364.0,864.6 365.0,864.3 366.0,864.4 367.0,864.6 368.0,864.6 369.0,864.6 370.0,864.1 371.0,864.1 372.0,864.2 373.0,864.2 374.0,864.3 375.0,864.0 376.0,864.5 377.0,864.3 378.0,864.2 379.0,864.3 380.0,864.2 381.0,864.2 382.0,864.7 383.0,864.4 384.0,864.5 385.0,864.5 386.0,864.3 387.0,864.2 388.0,864.3 389.0,864.2 390.0,864.1 391.0,864.4 392.0,864.3 393.0,864.4 394.0,864.2 395.0,864.3 396.0,864.8 397.0,864.4 398.0,864.7 399.0,864.3 400.0,864.5 401.0,864.3 402.0,864.1 403.0,864.1 404.0,864.4 405.0,864.6 406.0,864.6 407.0,864.1 408.0,864.2 409.0,864.1 410.0,864.0 411.0,864.2 412.0,864.0 413.0,863.9 414.0,864.4 415.0,864.3 416.0,864.3 417.0,864.6 418.0,864.4 419.0,864.1 420.0,864.3 421.0,864.3 422.0,863.9 423.0,863.9 424.0,864.3 425.0,864.4 426.0,864.5 427.0,864.5 428.0,864.3 429.0,864.5 430.0,864.7 431.0,864.2 432.0,864.4 433.0,864.4 434.0,864.5 435.0,864.4 436.0,864.4 437.0,864.4 438.0,864.1 439.0,864.3 440.0,863.8 441.0,864.2 442.0,863.6 443.0,863.3 444.0,863.2 445.0,863.4 446.0,863.9 447.0,863.9 448.0,864.0 449.0,864.0 450.0,863.8 451.0,864.0 452.0,864.3 453.0,864.2 454.0,864.1 455.0,864.2 456.0,864.6 457.0,864.3 458.0,864.4 459.0,864.4 460.0,864.2 461.0,864.6 462.0,864.7 463.0,864.5 464.0,864.3 465.0,864.5 466.0,864.7 467.0,864.7 468.0,864.5 469.0,864.4 470.0,864.4 471.0,864.2 472.0,864.0 473.0,864.3 474.0,863.8 475.0,864.1 476.0,863.9 477.0,863.9 478.0,864.0 479.0,864.3 480.0,864.3 481.0,864.0 482.0,864.3 483.0,863.8 484.0,864.0 485.0,863.6 486.0,863.8 487.0,863.3 488.0,863.6 489.0,863.7 490.0,864.2 491.0,864.0 492.0,864.3 493.0,864.4 494.0,864.5 495.0,864.5 496.0,864.1 497.0,864.2 498.0,864.5 499.0,864.1 500.0,864.3 501.0,863.7 502.0,863.8 503.0,864.3 504.0,864.4 505.0,864.3 506.0,864.5 507.0,864.1 508.0,864.3 509.0,864.2 510.0,864.0 511.0,864.1 512.0,864.1 513.0,864.3 514.0,864.6 515.0,864.5 516.0,864.3 517.0,864.5 518.0,864.1 519.0,864.1 520.0,864.4 521.0,864.2 522.0,864.0 523.0,864.2 524.0,864.6 525.0,864.3 526.0,864.6 527.0,864.5 528.0,864.2 529.0,864.3 530.0,864.4 531.0,864.2 532.0,864.3 533.0,864.7 534.0,864.3 535.0,864.4 536.0,864.4 537.0,864.7 538.0,864.8 539.0,864.6 540.0,864.5 541.0,864.4 542.0,864.6 543.0,864.1 544.0,864.2 545.0,864.4 546.0,864.5 547.0,864.0 548.0,864.1 549.0,864.2 550.0,864.1 551.0,864.3 552.0,864.5 553.0,864.2 554.0,864.4 555.0,864.4 556.0,864.4 557.0,864.3 558.0,864.4 559.0,864.2 560.0,864.5 561.0,864.1 562.0,864.5 563.0,864.3 564.0,864.7 565.0,864.8 566.0,864.3 567.0,864.1 568.0,864.5 569.0,864.5 570.0,864.6 571.0,864.6 572.0,864.4 573.0,864.7 574.0,864.4 575.0,864.2 576.0,864.3 577.0,864.1 578.0,864.0 579.0,864.0 580.0,864.0 581.0,864.3 582.0,863.9 583.0,864.1 584.0,864.0 585.0,864.2 586.0,864.0 587.0,864.3 588.0,864.1 589.0,864.0 590.0,864.4 591.0,864.0 592.0,864.1 593.0,864.3 594.0,864.2 595.0,864.3 596.0,863.9 597.0,864.0 598.0,864.3 599.0,864.0 600.0,864.0 601.0,863.8 602.0,864.2 603.0,863.9 604.0,864.3 605.0,863.8 606.0,864.4 607.0,864.0 608.0,864.3 609.0,864.6 610.0,864.4 611.0,864.5 612.0,864.7 613.0,864.5 614.0,864.4 615.0,864.4 616.0,864.2 617.0,864.6 618.0,864.2 619.0,864.1 620.0,864.2 621.0,864.5 622.0,864.4 623.0,864.5 624.0,864.5 625.0,864.3 626.0,864.2 627.0,864.0 628.0,864.4 629.0,864.1 630.0,864.1 631.0,864.1 632.0,864.0 633.0,863.8 634.0,863.9 635.0,864.4 636.0,864.0 637.0,864.2 638.0,864.3 639.0,864.8 640.0,864.8 641.0,864.7 642.0,864.6 643.0,864.4 644.0,864.8 645.0,864.3 646.0,864.3 647.0,864.5 648.0,864.5 649.0,864.8 650.0,864.3 651.0,864.3 652.0,864.1 653.0,864.4 654.0,864.4 655.0,864.3 656.0,864.0 657.0,864.0 658.0,864.3 659.0,864.5 660.0,864.4 661.0,864.2 662.0,864.2 663.0,864.6 664.0,864.6 665.0,864.2 666.0,864.2 667.0,864.4 668.0,864.8 669.0,864.6 670.0,864.2 671.0,864.1 672.0,864.3 673.0,864.5 674.0,864.0 675.0,864.0 676.0,864.0 677.0,863.9 678.0,864.0 679.0,863.9 680.0,864.1 681.0,864.2 682.0,863.8 683.0,863.9 684.0,864.2 685.0,863.9 686.0,864.0 687.0,863.9 688.0,864.1 689.0,864.4 690.0,864.4 691.0,864.1 692.0,863.9 693.0,864.1 694.0,863.8 695.0,863.9 696.0,864.0 697.0,864.1 698.0,864.0 699.0,864.0 700.0,864.2 701.0,864.2 702.0,864.2 703.0,864.1 704.0,864.2 705.0,863.9 706.0,863.8 707.0,864.2 708.0,864.3 709.0,864.1 710.0,864.2 711.0,864.4 712.0,864.4 713.0,864.3 714.0,864.3 715.0,864.3 716.0,864.7 717.0,864.5 718.0,864.6 719.0,864.7 720.0,864.6 721.0,864.8 722.0,864.7 723.0,864.7 724.0,864.6 725.0,864.4 726.0,864.4 727.0,864.4 728.0,863.8 729.0,864.2 730.0,863.8 731.0,863.6 732.0,864.1 733.0,864.2 734.0,864.0 735.0,864.1 736.0,864.3 737.0,864.2 738.0,864.4 739.0,863.9 740.0,863.7 741.0,864.3 742.0,864.4 743.0,864.2 744.0,863.9 745.0,864.1 746.0,864.2 747.0,863.9 748.0,864.1 749.0,863.9 750.0,864.2 751.0,864.4 752.0,864.1 753.0,864.3 754.0,864.2 755.0,864.0 756.0,864.1 757.0,864.3 758.0,864.1 759.0,864.6 760.0,864.1 761.0,864.3 762.0,864.1 763.0,864.2 764.0,864.2 765.0,863.8 766.0,864.1 767.0,864.1 768.0,864.0 769.0,864.2 770.0,864.0 771.0,864.0 772.0,864.1 773.0,864.2 774.0,864.2 775.0,864.4 776.0,864.6 777.0,864.2 778.0,864.4 779.0,864.4 780.0,864.2 781.0,864.4 782.0,864.4 783.0,864.1 784.0,864.3 785.0,864.1 786.0,864.2 787.0,864.1 788.0,864.5 789.0,864.0 790.0,864.0 791.0,864.0 792.0,863.9 793.0,864.4 794.0,864.4 795.0,864.0 796.0,864.4 797.0,864.3 798.0,864.3 799.0,863.9 800.0,863.9 801.0,864.2 802.0,864.2 803.0,864.2 804.0,864.2 805.0,864.2 806.0,864.3 807.0,864.4 808.0,864.2 809.0,864.6 810.0,864.6 811.0,864.7 812.0,864.6 813.0,864.5 814.0,864.3 815.0,864.5 816.0,864.3 817.0,864.4 818.0,864.4 819.0,864.7 820.0,864.4 821.0,864.4 822.0,864.6 823.0,864.2 824.0,864.2 825.0,864.3 826.0,864.2 827.0,864.3 828.0,864.3 829.0,864.4 830.0,864.5 831.0,864.3 832.0,864.3 833.0,864.3 834.0,863.8 835.0,863.9 836.0,863.8 837.0,864.0 838.0,863.8 839.0,864.0 840.0,864.1 841.0,864.2 842.0,863.9 843.0,864.1 844.0,864.2 845.0,864.1 846.0,864.3 847.0,864.1 848.0,864.3 849.0,864.1 850.0,864.0 851.0,864.3 852.0,864.4 853.0,864.3 854.0,864.2 855.0,864.3 856.0,864.0 857.0,864.1 858.0,864.1 859.0,864.1 860.0,864.5 861.0,864.3 862.0,864.5 863.0,864.4 864.0,864.0 865.0,864.3 866.0,864.1 867.0,863.9 868.0,864.1 869.0,863.8 870.0,864.3 871.0,864.3 872.0,864.3 873.0,864.4 874.0,864.5 875.0,864.3 876.0,864.4 877.0,864.4 878.0,864.1 879.0,864.0 880.0,864.0 881.0,864.0 882.0,864.2 883.0,864.4 884.0,864.2 885.0,864.1 886.0,864.4 887.0,864.1 888.0,864.1 889.0,864.5 890.0,864.3 891.0,864.5 892.0,864.5 893.0,864.2 894.0,864.2 895.0,864.5 896.0,864.6 897.0,864.3 898.0,864.5 899.0,864.2 900.0,864.2 901.0,864.2 902.0,864.4 903.0,864.3 904.0,864.6 905.0,864.6 906.0,864.3 907.0,864.3 908.0,864.5 909.0,864.3 910.0,864.3 911.0,864.1 912.0,863.8 913.0,864.3 914.0,864.4 915.0,864.5 916.0,864.5 917.0,864.5 918.0,864.4 919.0,864.5 920.0,864.4 921.0,864.2 922.0,864.7 923.0,864.5 924.0,864.8 925.0,864.5 926.0,864.4 927.0,864.4 928.0,864.6 929.0,864.3 930.0,863.9 931.0,864.3 932.0,864.4 933.0,864.1 934.0,864.5 935.0,864.4 936.0,864.2 937.0,864.3 938.0,864.0 939.0,864.2 940.0,864.2 941.0,864.1 942.0,863.6 943.0,863.8 944.0,863.9 945.0,864.1 946.0,864.3 947.0,864.0 948.0,864.4 949.0,864.5 950.0,864.4 951.0,864.0 952.0,864.2 953.0,864.0 954.0,864.3 955.0,864.3 956.0,863.9 957.0,864.1 958.0,864.2 959.0,864.2 960.0,864.1 961.0,864.0 962.0,864.2 963.0,864.4 964.0,864.2 965.0,864.4 966.0,864.4 967.0,864.2 968.0,864.5 969.0,864.3 970.0,864.6 971.0,864.4 972.0,864.5 973.0,864.3 974.0,864.1 975.0,864.3 976.0,864.5 977.0,864.3 978.0,864.5 979.0,864.2 980.0,864.6 981.0,864.7 982.0,864.2 983.0,864.6 984.0,864.4 985.0,864.3 986.0,864.6 987.0,864.3 988.0,864.4 989.0,864.4 990.0,864.4 991.0,864.2 992.0,864.6 993.0,864.5 994.0,864.5 995.0,864.2 996.0,864.3 997.0,864.2 998.0,864.2 999.0,863.8 1000.0,864.2 1001.0,864.2 1002.0,864.1 1003.0,864.2 1004.0,864.1 1005.0,864.4 1006.0,864.3 1007.0,864.2 1008.0,864.4 1009.0,864.7 1010.0,864.9 1011.0,864.3 1012.0,864.2 1013.0,864.0 1014.0,864.4 1015.0,864.5 1016.0,864.2 1017.0,864.4 1018.0,864.5 1019.0,864.2 1020.0,864.5 1021.0,864.3 1022.0,864.1 1023.0,864.7 1024.0,864.1 1025.0,864.2 1026.0,864.6 1027.0,864.3 1028.0,864.7 1029.0,864.8 1030.0,864.2 1031.0,864.7 1032.0,864.4 1033.0,864.6 1034.0,864.2 1035.0,864.1 1036.0,864.1 1037.0,864.0 1038.0,864.0 1039.0,864.2 1040.0,864.4 1041.0,864.3 1042.0,864.4 1043.0,864.1 1044.0,864.2 1045.0,864.2 1046.0,864.1 1047.0,864.3 1048.0,864.2 1049.0,864.0 1050.0,864.4 1051.0,864.4 1052.0,864.1 1053.0,863.9 1054.0,864.1 1055.0,864.1 1056.0,864.3 1057.0,864.2 1058.0,864.0 1059.0,863.8 1060.0,863.9 1061.0,863.8 1062.0,864.2 1063.0,864.4 1064.0,864.0 1065.0,864.0 1066.0,864.2 1067.0,864.3 1068.0,864.5 1069.0,864.2 1070.0,864.5 1071.0,864.3 1072.0,864.4 1073.0,864.3 1074.0,864.5 1075.0,864.3 1076.0,864.0 1077.0,864.3 1078.0,864.1 1079.0,864.4 1080.0,864.4 1081.0,864.1 1082.0,864.3 1083.0,864.2 1084.0,864.4 1085.0,864.8 1086.0,864.3 1087.0,864.7 1088.0,864.6 1089.0,864.7 1090.0,864.3 1091.0,864.5 1092.0,864.2 1093.0,864.2 1094.0,864.2 1095.0,864.4 1096.0,864.3 1097.0,864.3 1098.0,864.2 1099.0,864.2 1100.0,864.3 1101.0,864.0 1102.0,864.3 1103.0,864.1 1104.0,864.4 1105.0,863.9 1106.0,864.0 1107.0,864.1 1108.0,864.1 1109.0,864.0 1110.0,864.4 1111.0,864.0 1112.0,864.2 1113.0,863.9 1114.0,863.9 1115.0,864.4 1116.0,864.1 1117.0,864.0 1118.0,864.5 1119.0,864.2 1120.0,864.4 1121.0,864.6 1122.0,864.4 1123.0,864.2 1124.0,864.5 1125.0,864.6 1126.0,864.7 1127.0,864.3 1128.0,864.7 1129.0,864.3 1130.0,864.3 1131.0,864.2 1132.0,864.4 1133.0,864.0 1134.0,864.5 1135.0,864.6 1136.0,864.8 1137.0,864.5 1138.0,864.6 1139.0,864.6 1140.0,864.9 1141.0,864.5 1142.0,864.6 1143.0,864.6 1144.0,864.7 1145.0,864.4 1146.0,864.6 1147.0,864.4 1148.0,864.2 1149.0,864.1 1150.0,864.3 1154.0,862.5 1158.0,856.0 1162.0,847.5 1165.0,840.8 1167.0,840.0 1171.0,840.3 1175.0,846.0 1179.0,853.0 1182.0,857.2 1189.0,856.8 1196.0,857.2 1200.0,860.0 1204.0,863.5 1208.0,864.3 1209.0,864.7 1210.0,864.5 1211.0,864.4 1212.0,864.6 1213.0,864.6 1214.0,864.6 1215.0,864.5 1216.0,864.6 1217.0,864.3 1218.0,864.3 1219.0,864.4 1220.0,864.4 1221.0,864.2 1222.0,864.1 1223.0,864.4 1224.0,864.4 1225.0,864.3 1226.0,864.5 1227.0,864.1 1228.0,864.1 1229.0,864.2 1230.0,864.4 1231.0,864.3 1232.0,864.5 1233.0,864.6 1234.0,864.3 1235.0,864.3 1236.0,864.6 1237.0,864.3 1238.0,864.4 1239.0,864.5 1240.0,864.8 1241.0,864.5 1242.0,864.8 1243.0,864.5 1244.0,864.4 1245.0,864.7 1246.0,864.5 1247.0,864.6 1248.0,864.6 1249.0,864.8 1250.0,864.3 1251.0,864.4 1252.0,864.2 1253.0,864.3 1254.0,864.2 1255.0,864.5 1256.0,864.2 1257.0,864.3 1258.0,864.2 1259.0,864.5 1260.0,864.5 1261.0,864.3 1262.0,864.2 1263.0,864.4 1264.0,864.5 1265.0,864.3 1266.0,864.4 1267.0,864.0 1268.0,864.1 1269.0,864.3 1270.0,864.1 1271.0,864.3 1272.0,864.2 1273.0,863.9 1274.0,863.8 1275.0,864.3 1276.0,864.2 1277.0,863.9 1278.0,864.4 1279.0,864.5 1280.0,864.4 1281.0,864.5 1282.0,864.3 1283.0,864.7 1284.0,864.5 1285.0,864.6 1286.0,864.6 1287.0,864.7 1288.0,864.4 1289.0,864.6 1290.0,864.5 1291.0,864.4 1292.0,864.6 1293.0,864.3 1294.0,864.1 1295.0,864.1 1296.0,863.8 1297.0,864.1 1298.0,863.9 1299.0,863.9 1300.0,864.0 1301.0,863.7 1302.0,863.8 1303.0,864.2 1304.0,863.9 1305.0,864.2 1306.0,863.9 1307.0,864.1 1308.0,864.2 1309.0,864.5 1310.0,864.3 1311.0,864.3 1312.0,864.3 1313.0,864.1 1314.0,864.2 1315.0,864.2 1316.0,864.0 1317.0,863.9 1318.0,864.1 1319.0,864.3 1320.0,864.1 1321.0,863.9 1322.0,864.1 1323.0,864.1 1324.0,864.2 1325.0,864.2 1326.0,864.1 1327.0,863.9 1328.0,864.1 1329.0,864.4 1330.0,864.5 1331.0,864.2 1332.0,864.1 1333.0,864.5 1334.0,864.3 1335.0,864.5 1336.0,864.4 1337.0,864.3 1338.0,863.9 1339.0,864.4 1340.0,864.1 1341.0,864.0 1342.0,864.0 1343.0,863.9 1344.0,864.1 1345.0,864.1 1346.0,864.2 1347.0,864.0 1348.0,864.0 1349.0,864.1 1350.0,864.0 1351.0,864.2 1352.0,863.8 1353.0,863.8 1354.0,864.0 1355.0,864.4" fill="none" stroke="#8000FF" stroke-width="5.0" stroke-linejoin="round" stroke-linecap="butt"/>
<rect x="217.9" y="873.0" width="2" height="159.5" fill="#000"/>
<rect x="240.0" y="929.6" width="3" height="102.9" fill="#000"/>
<rect x="243.0" y="922.0" width="5" height="110.5" fill="#000"/>
<rect x="248.0" y="1003.6" width="5" height="28.9" fill="#000"/>
<rect x="270.0" y="1026.4" width="2" height="6.1" fill="#000"/>
<rect x="301.0" y="1028.6" width="2" height="3.9" fill="#000"/>
<rect x="324.8" y="1026.4" width="2.5" height="6.1" fill="#000"/>
<rect x="340.0" y="1028.6" width="2" height="3.9" fill="#000"/>
<rect x="360.6" y="1023.0" width="2.5" height="9.5" fill="#000"/>
<rect x="379.1" y="1017.7" width="2.5" height="14.8" fill="#000"/>
<rect x="400.9" y="1012.3" width="2.5" height="20.2" fill="#000"/>
<rect x="404.0" y="1020.0" width="3" height="12.5" fill="#000"/>
<rect x="421.9" y="1017.0" width="2.5" height="15.5" fill="#000"/>
<rect x="431.7" y="1020.5" width="3" height="12.0" fill="#000"/>
<rect x="449.6" y="1025.8" width="2" height="6.7" fill="#000"/>
<rect x="468.5" y="1025.8" width="2" height="6.7" fill="#000"/>
<rect x="481.0" y="1022.0" width="2" height="10.5" fill="#000"/>
<rect x="483.0" y="1017.7" width="3" height="14.8" fill="#000"/>
<rect x="521.5" y="1025.8" width="3" height="6.7" fill="#000"/>
<rect x="540.5" y="1028.6" width="2" height="3.9" fill="#000"/>
<rect x="551.4" y="1023.0" width="3" height="9.5" fill="#000"/>
<rect x="564.5" y="1020.7" width="3.5" height="11.8" fill="#000"/>
<rect x="589.3" y="1028.6" width="2" height="3.9" fill="#000"/>
<rect x="600.1" y="1025.8" width="3" height="6.7" fill="#000"/>
<rect x="624.5" y="954.5" width="4" height="78.0" fill="#000"/>
<rect x="631.9" y="938.2" width="2" height="94.3" fill="#000"/>
<rect x="640.5" y="1003.8" width="4" height="28.7" fill="#000"/>
<rect x="648.2" y="984.8" width="2" height="47.7" fill="#000"/>
<rect x="659.5" y="1005.0" width="4.5" height="27.5" fill="#000"/>
<rect x="670.1" y="1028.6" width="2" height="3.9" fill="#000"/>
<rect x="692.0" y="1025.8" width="2" height="6.7" fill="#000"/>
<rect x="701.0" y="1023.0" width="2.5" height="9.5" fill="#000"/>
<rect x="710.5" y="1025.8" width="2" height="6.7" fill="#000"/>
<rect x="719.4" y="1026.0" width="2" height="6.5" fill="#000"/>
<rect x="727.7" y="1018.3" width="2" height="14.2" fill="#000"/>
<rect x="744.4" y="1029.0" width="2" height="3.5" fill="#000"/>
<rect x="759.7" y="1029.0" width="2" height="3.5" fill="#000"/>
<rect x="792.3" y="1023.0" width="2" height="9.5" fill="#000"/>
<rect x="806.5" y="1023.0" width="4" height="9.5" fill="#000"/>
<rect x="814.0" y="1026.0" width="2" height="6.5" fill="#000"/>
<rect x="820.5" y="1026.0" width="3" height="6.5" fill="#000"/>
<rect x="843.8" y="1029.0" width="2" height="3.5" fill="#000"/>
<rect x="885.7" y="1025.2" width="2" height="7.3" fill="#000"/>
<rect x="929.2" y="1025.2" width="2" height="7.3" fill="#000"/>
<rect x="936.8" y="1027.0" width="2" height="5.5" fill="#000"/>
<rect x="944.4" y="1027.0" width="2" height="5.5" fill="#000"/>
<rect x="964.7" y="1025.2" width="2" height="7.3" fill="#000"/>
<rect x="1005.3" y="1025.0" width="2" height="7.5" fill="#000"/>
<rect x="1013.0" y="1028.7" width="2" height="3.8" fill="#000"/>
<rect x="1215.2" y="1023.0" width="4" height="9.5" fill="#000"/>
<rect x="1229.4" y="1017.8" width="3" height="14.7" fill="#000"/>
<rect x="1253.0" y="1029.0" width="2" height="3.5" fill="#000"/>
<rect x="1277.7" y="1029.0" width="2" height="3.5" fill="#000"/>
<rect x="84.5" y="19.1" width="1318.8" height="1014.5" fill="none" stroke="#000" stroke-width="5"/>
<rect x="136.7" y="1034" width="4" height="21.7" fill="#000"/>
<rect x="204.1" y="1034" width="2.8" height="12.3" fill="#000"/>
<rect x="270.3" y="1034" width="4" height="21.7" fill="#000"/>
<rect x="338.1" y="1034" width="2.8" height="12.3" fill="#000"/>
<rect x="404.7" y="1034" width="4" height="21.7" fill="#000"/>
<rect x="472.9" y="1034" width="2.8" height="12.3" fill="#000"/>
<rect x="539.8" y="1034" width="4" height="21.7" fill="#000"/>
<rect x="607.9" y="1034" width="2.8" height="12.3" fill="#000"/>
<rect x="674.7" y="1034" width="4" height="21.7" fill="#000"/>
<rect x="742.5" y="1034" width="2.8" height="12.3" fill="#000"/>
<rect x="809.0" y="1034" width="4" height="21.7" fill="#000"/>
<rect x="877.2" y="1034" width="2.8" height="12.3" fill="#000"/>
<rect x="944.3" y="1034" width="4" height="21.7" fill="#000"/>
<rect x="1012.7" y="1034" width="2.8" height="12.3" fill="#000"/>
<rect x="1079.9" y="1034" width="4" height="21.7" fill="#000"/>
<rect x="1147.3" y="1034" width="2.8" height="12.3" fill="#000"/>
<rect x="1213.6" y="1034" width="4" height="21.7" fill="#000"/>
<rect x="1281.3" y="1034" width="2.8" height="12.3" fill="#000"/>
<rect x="1347.8" y="1034" width="4" height="21.7" fill="#000"/>
<text transform="translate(137.5,1112) scale(1.04,1)" x="0" y="0" font-size="57.5" text-anchor="middle">5</text>
<text transform="translate(273.7,1112) scale(1.04,1)" x="0" y="0" font-size="57.5" text-anchor="middle">10</text>
<text transform="translate(407.1,1112) scale(1.04,1)" x="0" y="0" font-size="57.5" text-anchor="middle">15</text>
<text transform="translate(542.0,1112) scale(1.04,1)" x="0" y="0" font-size="57.5" text-anchor="middle">20</text>
<text transform="translate(675.8,1112) scale(1.04,1)" x="0" y="0" font-size="57.5" text-anchor="middle">25</text>
<text transform="translate(811.1,1112) scale(1.04,1)" x="0" y="0" font-size="57.5" text-anchor="middle">30</text>
<text transform="translate(945.7,1112) scale(1.04,1)" x="0" y="0" font-size="57.5" text-anchor="middle">35</text>
<text transform="translate(1080.9,1112) scale(1.04,1)" x="0" y="0" font-size="57.5" text-anchor="middle">40</text>
<text transform="translate(1215.9,1112) scale(1.04,1)" x="0" y="0" font-size="57.5" text-anchor="middle">45</text>
<text transform="translate(1349.7,1112) scale(1.04,1)" x="0" y="0" font-size="57.5" text-anchor="middle">50</text>
<text x="620.8" y="1180.5" font-size="63"><tspan font-size="64">2</tspan><tspan dx="1.5" font-weight="normal" font-style="italic">θ</tspan><tspan font-weight="normal" font-size="49" dx="14.5" dy="-1">(</tspan><tspan dy="1">degrees</tspan><tspan font-weight="normal" font-size="49" dy="-1">)</tspan></text>
<text transform="translate(58.7,654) rotate(-90)" x="0" y="0" font-size="63">Intensity</text>
<text x="874.0" y="195.9" font-size="49" xml:space="preserve">ZM-0.2TM</text>
<text x="869.7" y="307.9" font-size="49" xml:space="preserve">ZM-0.1TM</text>
<text x="869.8" y="414.6" font-size="49" xml:space="preserve">ZM-0.15TP</text>
<text x="887.7" y="523.3" font-size="49" xml:space="preserve">ZM-0.1TP</text>
<text x="872.5" y="627.4" font-size="49" xml:space="preserve">ZM-0.05TP</text>
<text x="895.7" y="733.3" font-size="49" xml:space="preserve">ZM-0TP</text>
<text x="857.4" y="839.5" font-size="49" xml:space="preserve">SST support</text>
<text x="729.3" y="961.6" font-size="49" xml:space="preserve">MFI  (ICDD PDF# 44-0003)</text>
<text x="119.0" y="69.7" font-size="50" xml:space="preserve">101</text>
<text x="242.6" y="68.1" font-size="50" xml:space="preserve">020</text>
<text x="319.2" y="116.8" font-size="50" xml:space="preserve">002</text>
<text x="409.6" y="92.9" font-size="50" xml:space="preserve">102</text>
<text x="518.9" y="125.2" font-size="50" xml:space="preserve">103</text>
<text transform="translate(594.5,73.6) scale(0.93,1)" x="0" y="0" font-size="50">051</text>
<text x="657.4" y="127.2" font-size="50" xml:space="preserve">303</text>
<text x="1153.2" y="117.0" font-size="49" xml:space="preserve">support</text>
<line x1="160.8" y1="74.2" x2="194.0" y2="106.5" stroke="#000" stroke-width="2.4"/>
<path d="M187.5,110 L197,101.5 L205,112 L211.5,125 L200,118 Z" fill="#000"/>
<line x1="268.4" y1="82.6" x2="253.5" y2="119.0" stroke="#000" stroke-width="2.2" stroke-dasharray="4.5,3"/>
<path d="M247.5,121 L254,118 L259.5,128 L252,137.5 L246.5,147 L246.3,132 Z" fill="#000"/>
<line x1="349.8" y1="125.8" x2="349.8" y2="136.5" stroke="#000" stroke-width="2.5"/>
<path d="M351.3,140 L353.7,140 L354.2,148 L359,148.5 L359,171 L357,173 L355,172 L346.5,153 L345.5,150 L351.3,149 Z" fill="#000"/>
<line x1="429.4" y1="110.0" x2="406.0" y2="140.5" stroke="#000" stroke-width="2.6" stroke-dasharray="2.6,2.4"/>
<path d="M401.5,139.5 L406,144 L411,147 L408,152 L395,163 L390,166 L393,157 L397,146 Z" fill="#000"/>
<line x1="554.1" y1="139.7" x2="554.1" y2="166.0" stroke="#000" stroke-width="2.4"/>
<path d="M547.5,164 L560.5,164.5 L556,178 L554.3,191.5 L552.5,178 Z" fill="#000"/>
<path d="M621,121.5 L632,121.5 L632,137 L629.5,139.5 L628.8,150 L626.5,150.5 L623.5,143 L623,139 L621,137 Z" fill="#000"/>
<line x1="680.3" y1="134.1" x2="666.0" y2="163.0" stroke="#000" stroke-width="2.2" stroke-dasharray="4.5,3"/>
<path d="M658.5,164 L664,162 L672.2,165.6 L664,175 L654.4,185 Z" fill="#000"/>
<line x1="1183.6" y1="136.3" x2="1183.6" y2="144.4" stroke="#000" stroke-width="2.2"/>
<line x1="1180.7" y1="158.2" x2="1180.7" y2="164.6" stroke="#000" stroke-width="2.4"/>
<path d="M1174,172 L1183,173.5 L1185,176 L1184.5,180 L1181.5,187 L1179,193 L1176,197 L1174.5,196 Z" fill="#000"/>
</svg></body></html>
